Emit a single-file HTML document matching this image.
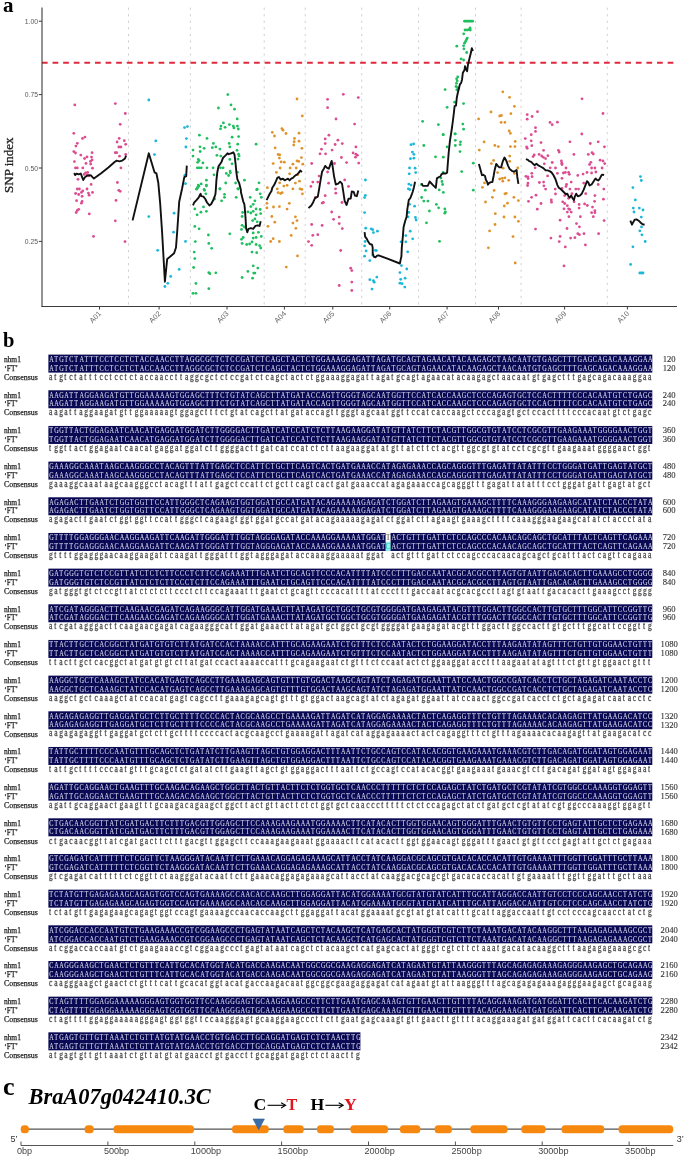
<!DOCTYPE html>
<html><head><meta charset="utf-8"><style>
html,body{margin:0;padding:0;background:#fff;}
svg{display:block;will-change:transform;filter:blur(0.35px);}
.sq{font-family:"Liberation Serif",serif;font-size:9.2px;fill:#dcdcf2;stroke:#dcdcf2;stroke-width:0.1px;}
.cs{font-family:"Liberation Serif",serif;font-size:9.4px;fill:#4a4a4a;stroke:#4a4a4a;stroke-width:0.28px;}
.lb{font-family:"Liberation Serif",serif;font-size:8.4px;fill:#222;stroke:#222;stroke-width:0.25px;}
.nm{font-family:"Liberation Serif",serif;font-size:8.6px;fill:#333;stroke:#333;stroke-width:0.12px;}
</style></head><body>
<svg width="685" height="1156" viewBox="0 0 685 1156">
<text x="3" y="12" font-family="Liberation Serif" font-weight="bold" font-size="21" fill="#000">a</text>
<line x1="128.5" y1="7.6" x2="128.5" y2="306.5" stroke="#d0d0d0" stroke-width="1" stroke-dasharray="2.2 4.35"/>
<line x1="190.4" y1="7.6" x2="190.4" y2="306.5" stroke="#d0d0d0" stroke-width="1" stroke-dasharray="2.2 4.35"/>
<line x1="264.2" y1="7.6" x2="264.2" y2="306.5" stroke="#d0d0d0" stroke-width="1" stroke-dasharray="2.2 4.35"/>
<line x1="305.2" y1="7.6" x2="305.2" y2="306.5" stroke="#d0d0d0" stroke-width="1" stroke-dasharray="2.2 4.35"/>
<line x1="361.7" y1="7.6" x2="361.7" y2="306.5" stroke="#d0d0d0" stroke-width="1" stroke-dasharray="2.2 4.35"/>
<line x1="418.6" y1="7.6" x2="418.6" y2="306.5" stroke="#d0d0d0" stroke-width="1" stroke-dasharray="2.2 4.35"/>
<line x1="475.5" y1="7.6" x2="475.5" y2="306.5" stroke="#d0d0d0" stroke-width="1" stroke-dasharray="2.2 4.35"/>
<line x1="521.1" y1="7.6" x2="521.1" y2="306.5" stroke="#d0d0d0" stroke-width="1" stroke-dasharray="2.2 4.35"/>
<line x1="607.3" y1="7.6" x2="607.3" y2="306.5" stroke="#d0d0d0" stroke-width="1" stroke-dasharray="2.2 4.35"/>
<line x1="41.95" y1="62.7" x2="673.6" y2="62.7" stroke="#e0283c" stroke-width="2" stroke-dasharray="5.7 4.905"/>
<g fill="#dc4c90"><circle cx="74.8" cy="104.9" r="1.4"/><circle cx="115.3" cy="103.6" r="1.4"/><circle cx="125.3" cy="113.5" r="1.4"/><circle cx="120.2" cy="124.3" r="1.4"/><circle cx="73.8" cy="133.3" r="1.4"/><circle cx="82.5" cy="138.4" r="1.4"/><circle cx="84.9" cy="137.1" r="1.4"/><circle cx="77.3" cy="143.3" r="1.4"/><circle cx="75.9" cy="146.1" r="1.4"/><circle cx="119.2" cy="138.4" r="1.4"/><circle cx="117.1" cy="142.0" r="1.4"/><circle cx="124.3" cy="140.7" r="1.4"/><circle cx="125.7" cy="144.3" r="1.4"/><circle cx="118.8" cy="147.0" r="1.4"/><circle cx="120.9" cy="147.0" r="1.4"/><circle cx="73.8" cy="151.6" r="1.4"/><circle cx="75.5" cy="153.0" r="1.4"/><circle cx="80.8" cy="155.1" r="1.4"/><circle cx="92.1" cy="152.7" r="1.4"/><circle cx="84.6" cy="158.5" r="1.4"/><circle cx="87.0" cy="156.9" r="1.4"/><circle cx="91.5" cy="157.1" r="1.4"/><circle cx="92.1" cy="159.9" r="1.4"/><circle cx="115.3" cy="152.7" r="1.4"/><circle cx="116.7" cy="152.7" r="1.4"/><circle cx="119.5" cy="156.2" r="1.4"/><circle cx="125.7" cy="154.4" r="1.4"/><circle cx="74.4" cy="161.6" r="1.4"/><circle cx="86.0" cy="163.4" r="1.4"/><circle cx="90.4" cy="161.3" r="1.4"/><circle cx="90.7" cy="164.0" r="1.4"/><circle cx="75.5" cy="167.9" r="1.4"/><circle cx="77.3" cy="167.9" r="1.4"/><circle cx="82.8" cy="167.9" r="1.4"/><circle cx="92.5" cy="168.2" r="1.4"/><circle cx="120.9" cy="167.9" r="1.4"/><circle cx="85.6" cy="172.8" r="1.4"/><circle cx="87.7" cy="172.4" r="1.4"/><circle cx="84.2" cy="174.4" r="1.4"/><circle cx="87.0" cy="175.1" r="1.4"/><circle cx="89.1" cy="175.8" r="1.4"/><circle cx="78.0" cy="179.3" r="1.4"/><circle cx="91.1" cy="184.4" r="1.4"/><circle cx="117.4" cy="182.5" r="1.4"/><circle cx="77.3" cy="189.0" r="1.4"/><circle cx="79.4" cy="189.0" r="1.4"/><circle cx="87.0" cy="189.0" r="1.4"/><circle cx="82.8" cy="190.8" r="1.4"/><circle cx="81.4" cy="192.4" r="1.4"/><circle cx="92.5" cy="192.4" r="1.4"/><circle cx="88.4" cy="193.1" r="1.4"/><circle cx="75.6" cy="193.5" r="1.4"/><circle cx="78.7" cy="194.5" r="1.4"/><circle cx="82.1" cy="196.3" r="1.4"/><circle cx="89.1" cy="195.2" r="1.4"/><circle cx="118.8" cy="190.3" r="1.4"/><circle cx="120.2" cy="191.3" r="1.4"/><circle cx="76.6" cy="200.7" r="1.4"/><circle cx="82.1" cy="201.4" r="1.4"/><circle cx="81.4" cy="203.2" r="1.4"/><circle cx="116.0" cy="200.4" r="1.4"/><circle cx="78.7" cy="209.3" r="1.4"/><circle cx="77.3" cy="210.4" r="1.4"/><circle cx="76.2" cy="212.5" r="1.4"/><circle cx="89.3" cy="213.9" r="1.4"/><circle cx="115.3" cy="220.8" r="1.4"/><circle cx="93.5" cy="236.4" r="1.4"/><circle cx="125.0" cy="241.6" r="1.4"/></g>
<g fill="#1ab8d8"><circle cx="148.8" cy="100.0" r="1.4"/><circle cx="155.8" cy="140.9" r="1.4"/><circle cx="154.5" cy="154.6" r="1.4"/><circle cx="184.5" cy="127.6" r="1.4"/><circle cx="187.4" cy="126.6" r="1.4"/><circle cx="186.4" cy="138.6" r="1.4"/><circle cx="185.9" cy="147.0" r="1.4"/><circle cx="184.9" cy="175.2" r="1.4"/><circle cx="185.5" cy="183.7" r="1.4"/><circle cx="148.8" cy="216.6" r="1.4"/><circle cx="174.1" cy="213.2" r="1.4"/><circle cx="173.5" cy="232.2" r="1.4"/><circle cx="185.5" cy="241.4" r="1.4"/><circle cx="157.7" cy="250.3" r="1.4"/><circle cx="179.2" cy="269.4" r="1.4"/><circle cx="170.7" cy="276.4" r="1.4"/><circle cx="167.8" cy="283.3" r="1.4"/><circle cx="164.9" cy="286.5" r="1.4"/></g>
<g fill="#1fbf5e"><circle cx="227.8" cy="94.6" r="1.4"/><circle cx="231.0" cy="104.9" r="1.4"/><circle cx="234.5" cy="109.2" r="1.4"/><circle cx="218.4" cy="108.0" r="1.4"/><circle cx="237.2" cy="118.9" r="1.4"/><circle cx="223.4" cy="122.9" r="1.4"/><circle cx="229.4" cy="124.6" r="1.4"/><circle cx="233.3" cy="126.1" r="1.4"/><circle cx="237.4" cy="126.1" r="1.4"/><circle cx="221.0" cy="126.1" r="1.4"/><circle cx="225.1" cy="127.3" r="1.4"/><circle cx="220.5" cy="128.8" r="1.4"/><circle cx="233.9" cy="127.9" r="1.4"/><circle cx="238.3" cy="129.0" r="1.4"/><circle cx="199.4" cy="135.2" r="1.4"/><circle cx="207.0" cy="138.4" r="1.4"/><circle cx="232.1" cy="137.2" r="1.4"/><circle cx="238.6" cy="136.6" r="1.4"/><circle cx="213.4" cy="143.4" r="1.4"/><circle cx="229.2" cy="143.4" r="1.4"/><circle cx="237.7" cy="144.2" r="1.4"/><circle cx="256.1" cy="144.2" r="1.4"/><circle cx="200.0" cy="146.8" r="1.4"/><circle cx="204.1" cy="148.3" r="1.4"/><circle cx="212.3" cy="147.7" r="1.4"/><circle cx="215.8" cy="146.9" r="1.4"/><circle cx="229.8" cy="146.9" r="1.4"/><circle cx="219.9" cy="149.1" r="1.4"/><circle cx="193.0" cy="150.1" r="1.4"/><circle cx="200.2" cy="151.5" r="1.4"/><circle cx="237.0" cy="150.3" r="1.4"/><circle cx="216.9" cy="155.3" r="1.4"/><circle cx="220.8" cy="156.1" r="1.4"/><circle cx="238.6" cy="154.2" r="1.4"/><circle cx="239.1" cy="155.9" r="1.4"/><circle cx="193.0" cy="156.1" r="1.4"/><circle cx="198.3" cy="159.4" r="1.4"/><circle cx="199.1" cy="160.6" r="1.4"/><circle cx="197.7" cy="162.3" r="1.4"/><circle cx="202.9" cy="162.9" r="1.4"/><circle cx="229.8" cy="159.4" r="1.4"/><circle cx="238.0" cy="159.1" r="1.4"/><circle cx="232.1" cy="163.8" r="1.4"/><circle cx="197.3" cy="167.8" r="1.4"/><circle cx="199.1" cy="167.8" r="1.4"/><circle cx="201.2" cy="167.8" r="1.4"/><circle cx="207.0" cy="167.8" r="1.4"/><circle cx="213.1" cy="167.8" r="1.4"/><circle cx="220.5" cy="167.8" r="1.4"/><circle cx="223.1" cy="167.8" r="1.4"/><circle cx="226.3" cy="173.4" r="1.4"/><circle cx="230.1" cy="171.1" r="1.4"/><circle cx="230.4" cy="172.8" r="1.4"/><circle cx="228.6" cy="175.5" r="1.4"/><circle cx="214.0" cy="174.8" r="1.4"/><circle cx="237.4" cy="172.3" r="1.4"/><circle cx="206.4" cy="180.2" r="1.4"/><circle cx="244.4" cy="180.2" r="1.4"/><circle cx="259.0" cy="182.8" r="1.4"/><circle cx="225.7" cy="183.0" r="1.4"/><circle cx="235.6" cy="183.0" r="1.4"/><circle cx="198.3" cy="185.1" r="1.4"/><circle cx="201.2" cy="183.9" r="1.4"/><circle cx="206.4" cy="185.1" r="1.4"/><circle cx="197.7" cy="187.4" r="1.4"/><circle cx="196.5" cy="189.2" r="1.4"/><circle cx="204.1" cy="189.5" r="1.4"/><circle cx="219.9" cy="188.6" r="1.4"/><circle cx="238.0" cy="188.6" r="1.4"/><circle cx="257.2" cy="189.2" r="1.4"/><circle cx="197.1" cy="188.5" r="1.4"/><circle cx="198.8" cy="186.2" r="1.4"/><circle cx="206.4" cy="185.9" r="1.4"/><circle cx="204.5" cy="190.3" r="1.4"/><circle cx="205.9" cy="193.8" r="1.4"/><circle cx="219.9" cy="189.1" r="1.4"/><circle cx="238.0" cy="189.1" r="1.4"/><circle cx="256.7" cy="189.7" r="1.4"/><circle cx="224.5" cy="194.3" r="1.4"/><circle cx="224.5" cy="197.3" r="1.4"/><circle cx="236.2" cy="197.3" r="1.4"/><circle cx="221.6" cy="200.8" r="1.4"/><circle cx="214.6" cy="199.0" r="1.4"/><circle cx="260.2" cy="193.8" r="1.4"/><circle cx="261.3" cy="197.3" r="1.4"/><circle cx="250.2" cy="197.3" r="1.4"/><circle cx="254.9" cy="200.8" r="1.4"/><circle cx="253.2" cy="204.3" r="1.4"/><circle cx="250.8" cy="206.6" r="1.4"/><circle cx="194.8" cy="208.9" r="1.4"/><circle cx="203.5" cy="206.9" r="1.4"/><circle cx="200.9" cy="212.2" r="1.4"/><circle cx="206.4" cy="211.3" r="1.4"/><circle cx="197.1" cy="214.8" r="1.4"/><circle cx="242.6" cy="212.4" r="1.4"/><circle cx="247.9" cy="211.9" r="1.4"/><circle cx="250.8" cy="213.0" r="1.4"/><circle cx="253.2" cy="211.3" r="1.4"/><circle cx="256.1" cy="208.9" r="1.4"/><circle cx="260.2" cy="209.5" r="1.4"/><circle cx="260.7" cy="213.6" r="1.4"/><circle cx="256.1" cy="214.8" r="1.4"/><circle cx="242.1" cy="216.5" r="1.4"/><circle cx="254.9" cy="218.9" r="1.4"/><circle cx="252.6" cy="220.6" r="1.4"/><circle cx="257.2" cy="221.8" r="1.4"/><circle cx="242.1" cy="225.3" r="1.4"/><circle cx="244.4" cy="227.0" r="1.4"/><circle cx="241.5" cy="229.4" r="1.4"/><circle cx="194.8" cy="226.4" r="1.4"/><circle cx="199.1" cy="228.8" r="1.4"/><circle cx="229.8" cy="233.8" r="1.4"/><circle cx="208.4" cy="235.0" r="1.4"/><circle cx="253.2" cy="232.9" r="1.4"/><circle cx="258.4" cy="232.3" r="1.4"/><circle cx="261.3" cy="236.4" r="1.4"/><circle cx="256.1" cy="237.5" r="1.4"/><circle cx="253.2" cy="238.1" r="1.4"/><circle cx="243.2" cy="237.5" r="1.4"/><circle cx="241.5" cy="239.3" r="1.4"/><circle cx="195.3" cy="241.6" r="1.4"/><circle cx="208.8" cy="243.4" r="1.4"/><circle cx="211.7" cy="248.3" r="1.4"/><circle cx="242.1" cy="243.4" r="1.4"/><circle cx="246.7" cy="244.5" r="1.4"/><circle cx="249.6" cy="244.0" r="1.4"/><circle cx="256.1" cy="244.5" r="1.4"/><circle cx="259.6" cy="245.7" r="1.4"/><circle cx="260.7" cy="248.0" r="1.4"/><circle cx="252.0" cy="242.0" r="1.4"/><circle cx="194.2" cy="252.1" r="1.4"/><circle cx="252.0" cy="252.1" r="1.4"/><circle cx="256.7" cy="252.7" r="1.4"/><circle cx="194.8" cy="258.6" r="1.4"/><circle cx="193.6" cy="267.5" r="1.4"/><circle cx="253.2" cy="265.8" r="1.4"/><circle cx="257.8" cy="268.1" r="1.4"/><circle cx="208.8" cy="272.6" r="1.4"/><circle cx="209.9" cy="273.7" r="1.4"/><circle cx="215.8" cy="272.8" r="1.4"/><circle cx="247.9" cy="271.4" r="1.4"/><circle cx="253.7" cy="273.1" r="1.4"/><circle cx="254.9" cy="273.1" r="1.4"/><circle cx="242.1" cy="277.5" r="1.4"/><circle cx="252.6" cy="278.2" r="1.4"/><circle cx="195.9" cy="283.4" r="1.4"/><circle cx="208.8" cy="288.7" r="1.4"/><circle cx="193.0" cy="293.3" r="1.4"/><circle cx="195.9" cy="293.3" r="1.4"/></g>
<g fill="#e0922a"><circle cx="297.0" cy="99.0" r="1.4"/><circle cx="302.3" cy="115.9" r="1.4"/><circle cx="281.9" cy="128.6" r="1.4"/><circle cx="283.0" cy="130.2" r="1.4"/><circle cx="272.3" cy="132.3" r="1.4"/><circle cx="274.5" cy="136.0" r="1.4"/><circle cx="286.0" cy="133.5" r="1.4"/><circle cx="299.0" cy="133.2" r="1.4"/><circle cx="294.5" cy="138.4" r="1.4"/><circle cx="294.2" cy="141.7" r="1.4"/><circle cx="299.0" cy="141.2" r="1.4"/><circle cx="293.7" cy="145.0" r="1.4"/><circle cx="275.1" cy="147.8" r="1.4"/><circle cx="301.9" cy="148.3" r="1.4"/><circle cx="278.1" cy="154.4" r="1.4"/><circle cx="279.7" cy="154.9" r="1.4"/><circle cx="279.4" cy="158.1" r="1.4"/><circle cx="281.1" cy="161.9" r="1.4"/><circle cx="284.3" cy="162.2" r="1.4"/><circle cx="301.4" cy="157.6" r="1.4"/><circle cx="297.0" cy="160.9" r="1.4"/><circle cx="298.7" cy="161.4" r="1.4"/><circle cx="273.2" cy="163.6" r="1.4"/><circle cx="292.9" cy="164.2" r="1.4"/><circle cx="302.8" cy="164.2" r="1.4"/><circle cx="280.1" cy="168.0" r="1.4"/><circle cx="290.1" cy="168.0" r="1.4"/><circle cx="296.2" cy="168.0" r="1.4"/><circle cx="276.4" cy="172.4" r="1.4"/><circle cx="289.6" cy="173.8" r="1.4"/><circle cx="297.8" cy="174.6" r="1.4"/><circle cx="299.5" cy="181.2" r="1.4"/><circle cx="279.7" cy="182.8" r="1.4"/><circle cx="283.8" cy="186.1" r="1.4"/><circle cx="287.1" cy="185.3" r="1.4"/><circle cx="295.4" cy="183.1" r="1.4"/><circle cx="267.4" cy="187.7" r="1.4"/><circle cx="277.3" cy="188.9" r="1.4"/><circle cx="292.9" cy="188.9" r="1.4"/><circle cx="300.0" cy="188.9" r="1.4"/><circle cx="301.9" cy="189.4" r="1.4"/><circle cx="278.1" cy="192.7" r="1.4"/><circle cx="280.6" cy="193.5" r="1.4"/><circle cx="282.2" cy="192.7" r="1.4"/><circle cx="302.4" cy="193.8" r="1.4"/><circle cx="266.9" cy="203.3" r="1.4"/><circle cx="289.3" cy="203.3" r="1.4"/><circle cx="266.9" cy="207.9" r="1.4"/><circle cx="273.5" cy="207.0" r="1.4"/><circle cx="279.4" cy="206.6" r="1.4"/><circle cx="287.1" cy="209.1" r="1.4"/><circle cx="271.8" cy="216.5" r="1.4"/><circle cx="295.4" cy="216.8" r="1.4"/><circle cx="297.0" cy="220.6" r="1.4"/><circle cx="274.8" cy="222.2" r="1.4"/><circle cx="292.9" cy="223.1" r="1.4"/><circle cx="267.9" cy="226.3" r="1.4"/><circle cx="295.9" cy="228.3" r="1.4"/><circle cx="273.2" cy="238.7" r="1.4"/><circle cx="270.7" cy="241.5" r="1.4"/><circle cx="279.4" cy="241.5" r="1.4"/><circle cx="291.2" cy="235.4" r="1.4"/><circle cx="297.5" cy="255.9" r="1.4"/><circle cx="286.3" cy="267.1" r="1.4"/></g>
<g fill="#dc4c90"><circle cx="343.3" cy="94.3" r="1.4"/><circle cx="327.6" cy="99.3" r="1.4"/><circle cx="358.3" cy="97.6" r="1.4"/><circle cx="327.6" cy="107.7" r="1.4"/><circle cx="336.0" cy="119.0" r="1.4"/><circle cx="354.6" cy="124.1" r="1.4"/><circle cx="328.9" cy="135.2" r="1.4"/><circle cx="325.2" cy="138.9" r="1.4"/><circle cx="337.9" cy="140.2" r="1.4"/><circle cx="325.2" cy="143.6" r="1.4"/><circle cx="335.1" cy="144.5" r="1.4"/><circle cx="342.3" cy="143.6" r="1.4"/><circle cx="321.5" cy="149.2" r="1.4"/><circle cx="332.1" cy="150.1" r="1.4"/><circle cx="355.9" cy="146.9" r="1.4"/><circle cx="320.0" cy="153.8" r="1.4"/><circle cx="325.6" cy="153.8" r="1.4"/><circle cx="353.1" cy="152.9" r="1.4"/><circle cx="355.9" cy="154.2" r="1.4"/><circle cx="357.4" cy="155.3" r="1.4"/><circle cx="355.5" cy="157.2" r="1.4"/><circle cx="341.4" cy="157.5" r="1.4"/><circle cx="311.7" cy="163.5" r="1.4"/><circle cx="334.5" cy="163.5" r="1.4"/><circle cx="346.6" cy="162.6" r="1.4"/><circle cx="358.7" cy="163.1" r="1.4"/><circle cx="327.6" cy="172.0" r="1.4"/><circle cx="319.1" cy="176.1" r="1.4"/><circle cx="312.8" cy="182.1" r="1.4"/><circle cx="317.8" cy="182.1" r="1.4"/><circle cx="328.6" cy="183.2" r="1.4"/><circle cx="344.7" cy="179.9" r="1.4"/><circle cx="310.9" cy="186.4" r="1.4"/><circle cx="335.5" cy="188.8" r="1.4"/><circle cx="348.5" cy="186.4" r="1.4"/><circle cx="335.8" cy="193.2" r="1.4"/><circle cx="325.2" cy="195.7" r="1.4"/><circle cx="315.4" cy="197.5" r="1.4"/><circle cx="322.1" cy="203.1" r="1.4"/><circle cx="323.4" cy="202.5" r="1.4"/><circle cx="342.0" cy="202.5" r="1.4"/><circle cx="331.7" cy="212.0" r="1.4"/><circle cx="333.6" cy="219.3" r="1.4"/><circle cx="339.2" cy="217.1" r="1.4"/><circle cx="311.7" cy="224.5" r="1.4"/><circle cx="322.1" cy="225.4" r="1.4"/><circle cx="339.2" cy="223.6" r="1.4"/><circle cx="342.3" cy="228.6" r="1.4"/><circle cx="312.8" cy="235.3" r="1.4"/><circle cx="317.8" cy="234.7" r="1.4"/><circle cx="308.5" cy="241.6" r="1.4"/><circle cx="311.7" cy="245.3" r="1.4"/><circle cx="340.7" cy="250.5" r="1.4"/><circle cx="350.7" cy="268.2" r="1.4"/><circle cx="351.8" cy="270.6" r="1.4"/><circle cx="351.8" cy="282.1" r="1.4"/><circle cx="339.2" cy="285.5" r="1.4"/><circle cx="351.8" cy="290.5" r="1.4"/></g>
<g fill="#1ab8d8"><circle cx="411.0" cy="144.7" r="1.4"/><circle cx="413.6" cy="144.0" r="1.4"/><circle cx="412.4" cy="152.1" r="1.4"/><circle cx="413.9" cy="154.3" r="1.4"/><circle cx="410.5" cy="158.7" r="1.4"/><circle cx="413.9" cy="158.2" r="1.4"/><circle cx="409.5" cy="167.9" r="1.4"/><circle cx="415.1" cy="168.2" r="1.4"/><circle cx="409.2" cy="173.8" r="1.4"/><circle cx="415.7" cy="172.6" r="1.4"/><circle cx="408.8" cy="184.1" r="1.4"/><circle cx="411.0" cy="185.1" r="1.4"/><circle cx="408.3" cy="188.8" r="1.4"/><circle cx="409.8" cy="189.6" r="1.4"/><circle cx="409.5" cy="204.3" r="1.4"/><circle cx="414.6" cy="206.2" r="1.4"/><circle cx="408.8" cy="212.4" r="1.4"/><circle cx="408.0" cy="216.8" r="1.4"/><circle cx="415.4" cy="217.5" r="1.4"/><circle cx="416.1" cy="220.0" r="1.4"/><circle cx="365.4" cy="180.0" r="1.4"/><circle cx="365.4" cy="195.4" r="1.4"/><circle cx="364.6" cy="197.6" r="1.4"/><circle cx="364.6" cy="212.6" r="1.4"/><circle cx="365.7" cy="228.2" r="1.4"/><circle cx="371.2" cy="228.8" r="1.4"/><circle cx="372.7" cy="229.7" r="1.4"/><circle cx="373.4" cy="232.6" r="1.4"/><circle cx="377.4" cy="231.2" r="1.4"/><circle cx="410.2" cy="231.2" r="1.4"/><circle cx="405.8" cy="235.6" r="1.4"/><circle cx="412.7" cy="238.8" r="1.4"/><circle cx="365.1" cy="241.5" r="1.4"/><circle cx="405.8" cy="241.8" r="1.4"/><circle cx="401.0" cy="241.8" r="1.4"/><circle cx="364.6" cy="245.9" r="1.4"/><circle cx="366.1" cy="250.9" r="1.4"/><circle cx="375.4" cy="250.3" r="1.4"/><circle cx="376.4" cy="250.6" r="1.4"/><circle cx="372.7" cy="255.0" r="1.4"/><circle cx="364.6" cy="256.2" r="1.4"/><circle cx="369.8" cy="260.6" r="1.4"/><circle cx="407.7" cy="251.8" r="1.4"/><circle cx="401.4" cy="265.6" r="1.4"/><circle cx="406.8" cy="269.0" r="1.4"/><circle cx="399.9" cy="272.6" r="1.4"/><circle cx="400.7" cy="279.3" r="1.4"/><circle cx="405.1" cy="278.2" r="1.4"/><circle cx="399.9" cy="283.2" r="1.4"/><circle cx="402.1" cy="283.7" r="1.4"/><circle cx="404.8" cy="287.1" r="1.4"/><circle cx="369.8" cy="279.7" r="1.4"/><circle cx="373.4" cy="280.7" r="1.4"/><circle cx="374.2" cy="282.2" r="1.4"/><circle cx="376.8" cy="277.1" r="1.4"/><circle cx="372.0" cy="289.1" r="1.4"/></g>
<g fill="#1fbf5e"><circle cx="464.5" cy="21.2" r="1.4"/><circle cx="465.8" cy="21.2" r="1.4"/><circle cx="467.2" cy="21.2" r="1.4"/><circle cx="468.5" cy="21.2" r="1.4"/><circle cx="469.9" cy="21.2" r="1.4"/><circle cx="471.2" cy="21.2" r="1.4"/><circle cx="472.6" cy="21.2" r="1.4"/><circle cx="470.1" cy="28.0" r="1.4"/><circle cx="469.0" cy="29.7" r="1.4"/><circle cx="467.3" cy="30.0" r="1.4"/><circle cx="465.0" cy="30.0" r="1.4"/><circle cx="470.3" cy="30.0" r="1.4"/><circle cx="463.7" cy="33.8" r="1.4"/><circle cx="467.3" cy="38.1" r="1.4"/><circle cx="466.5" cy="39.5" r="1.4"/><circle cx="465.6" cy="41.5" r="1.4"/><circle cx="464.5" cy="43.2" r="1.4"/><circle cx="463.6" cy="45.8" r="1.4"/><circle cx="456.8" cy="46.2" r="1.4"/><circle cx="463.9" cy="48.8" r="1.4"/><circle cx="466.7" cy="52.5" r="1.4"/><circle cx="461.1" cy="58.9" r="1.4"/><circle cx="463.6" cy="60.0" r="1.4"/><circle cx="457.7" cy="76.9" r="1.4"/><circle cx="456.6" cy="78.8" r="1.4"/><circle cx="457.2" cy="80.8" r="1.4"/><circle cx="456.4" cy="83.3" r="1.4"/><circle cx="456.0" cy="86.5" r="1.4"/><circle cx="457.5" cy="87.6" r="1.4"/><circle cx="456.8" cy="89.8" r="1.4"/><circle cx="458.3" cy="88.7" r="1.4"/><circle cx="445.1" cy="89.6" r="1.4"/><circle cx="454.6" cy="102.2" r="1.4"/><circle cx="463.6" cy="103.6" r="1.4"/><circle cx="447.1" cy="107.3" r="1.4"/><circle cx="422.6" cy="121.3" r="1.4"/><circle cx="438.4" cy="124.7" r="1.4"/><circle cx="462.8" cy="124.1" r="1.4"/><circle cx="463.6" cy="129.2" r="1.4"/><circle cx="443.1" cy="134.6" r="1.4"/><circle cx="454.9" cy="133.9" r="1.4"/><circle cx="443.3" cy="134.7" r="1.4"/><circle cx="455.3" cy="133.9" r="1.4"/><circle cx="455.3" cy="140.3" r="1.4"/><circle cx="460.5" cy="141.8" r="1.4"/><circle cx="455.3" cy="145.5" r="1.4"/><circle cx="460.2" cy="144.6" r="1.4"/><circle cx="423.8" cy="145.5" r="1.4"/><circle cx="447.1" cy="146.9" r="1.4"/><circle cx="460.0" cy="151.6" r="1.4"/><circle cx="435.5" cy="156.8" r="1.4"/><circle cx="443.3" cy="157.2" r="1.4"/><circle cx="473.3" cy="163.2" r="1.4"/><circle cx="461.7" cy="171.6" r="1.4"/><circle cx="443.1" cy="172.5" r="1.4"/><circle cx="440.9" cy="178.1" r="1.4"/><circle cx="442.0" cy="181.5" r="1.4"/><circle cx="442.6" cy="184.5" r="1.4"/><circle cx="421.5" cy="184.5" r="1.4"/><circle cx="425.3" cy="190.2" r="1.4"/><circle cx="439.2" cy="189.9" r="1.4"/><circle cx="443.3" cy="192.4" r="1.4"/><circle cx="473.3" cy="190.2" r="1.4"/><circle cx="421.7" cy="197.5" r="1.4"/><circle cx="423.8" cy="201.1" r="1.4"/><circle cx="427.9" cy="201.1" r="1.4"/><circle cx="436.4" cy="204.4" r="1.4"/><circle cx="438.6" cy="207.8" r="1.4"/><circle cx="444.8" cy="208.9" r="1.4"/><circle cx="445.4" cy="211.9" r="1.4"/><circle cx="444.8" cy="213.2" r="1.4"/><circle cx="429.4" cy="211.0" r="1.4"/><circle cx="426.5" cy="222.8" r="1.4"/><circle cx="439.5" cy="241.3" r="1.4"/></g>
<g fill="#e0922a"><circle cx="502.8" cy="91.8" r="1.4"/><circle cx="509.5" cy="97.3" r="1.4"/><circle cx="514.4" cy="106.3" r="1.4"/><circle cx="491.0" cy="112.0" r="1.4"/><circle cx="510.9" cy="113.7" r="1.4"/><circle cx="499.7" cy="116.0" r="1.4"/><circle cx="501.4" cy="115.5" r="1.4"/><circle cx="478.6" cy="118.9" r="1.4"/><circle cx="501.1" cy="122.4" r="1.4"/><circle cx="504.9" cy="122.4" r="1.4"/><circle cx="509.2" cy="131.0" r="1.4"/><circle cx="510.4" cy="133.3" r="1.4"/><circle cx="515.2" cy="141.4" r="1.4"/><circle cx="484.1" cy="141.9" r="1.4"/><circle cx="494.8" cy="145.4" r="1.4"/><circle cx="498.3" cy="146.6" r="1.4"/><circle cx="510.4" cy="146.6" r="1.4"/><circle cx="514.9" cy="146.6" r="1.4"/><circle cx="479.3" cy="150.1" r="1.4"/><circle cx="509.7" cy="156.1" r="1.4"/><circle cx="493.6" cy="160.4" r="1.4"/><circle cx="509.7" cy="161.3" r="1.4"/><circle cx="491.4" cy="163.6" r="1.4"/><circle cx="517.8" cy="167.9" r="1.4"/><circle cx="503.1" cy="168.2" r="1.4"/><circle cx="497.6" cy="172.6" r="1.4"/><circle cx="514.4" cy="173.4" r="1.4"/><circle cx="499.7" cy="179.0" r="1.4"/><circle cx="502.3" cy="178.3" r="1.4"/><circle cx="504.9" cy="177.8" r="1.4"/><circle cx="502.8" cy="181.2" r="1.4"/><circle cx="508.7" cy="180.3" r="1.4"/><circle cx="484.5" cy="182.9" r="1.4"/><circle cx="482.4" cy="187.3" r="1.4"/><circle cx="494.1" cy="190.4" r="1.4"/><circle cx="504.9" cy="193.8" r="1.4"/><circle cx="506.2" cy="193.3" r="1.4"/><circle cx="492.4" cy="197.3" r="1.4"/><circle cx="513.9" cy="197.3" r="1.4"/><circle cx="518.4" cy="200.6" r="1.4"/><circle cx="485.5" cy="202.0" r="1.4"/><circle cx="507.5" cy="203.2" r="1.4"/><circle cx="504.3" cy="206.0" r="1.4"/><circle cx="495.3" cy="213.7" r="1.4"/><circle cx="504.0" cy="217.0" r="1.4"/><circle cx="514.9" cy="217.0" r="1.4"/><circle cx="518.4" cy="221.3" r="1.4"/><circle cx="495.0" cy="224.5" r="1.4"/><circle cx="489.6" cy="230.9" r="1.4"/><circle cx="513.0" cy="236.6" r="1.4"/><circle cx="488.4" cy="247.8" r="1.4"/><circle cx="515.2" cy="263.0" r="1.4"/></g>
<g fill="#dc4c90"><circle cx="582.0" cy="98.8" r="1.4"/><circle cx="537.5" cy="111.7" r="1.4"/><circle cx="527.2" cy="114.6" r="1.4"/><circle cx="527.2" cy="119.2" r="1.4"/><circle cx="532.1" cy="116.5" r="1.4"/><circle cx="603.0" cy="113.5" r="1.4"/><circle cx="550.0" cy="122.4" r="1.4"/><circle cx="552.2" cy="124.7" r="1.4"/><circle cx="557.4" cy="122.2" r="1.4"/><circle cx="535.5" cy="127.7" r="1.4"/><circle cx="535.5" cy="131.4" r="1.4"/><circle cx="531.2" cy="134.7" r="1.4"/><circle cx="581.8" cy="134.0" r="1.4"/><circle cx="525.3" cy="138.6" r="1.4"/><circle cx="531.2" cy="140.8" r="1.4"/><circle cx="541.0" cy="142.6" r="1.4"/><circle cx="569.9" cy="141.8" r="1.4"/><circle cx="598.2" cy="141.8" r="1.4"/><circle cx="590.3" cy="143.5" r="1.4"/><circle cx="526.6" cy="147.0" r="1.4"/><circle cx="527.2" cy="148.3" r="1.4"/><circle cx="531.8" cy="145.7" r="1.4"/><circle cx="604.4" cy="146.8" r="1.4"/><circle cx="543.6" cy="150.3" r="1.4"/><circle cx="558.4" cy="150.3" r="1.4"/><circle cx="559.2" cy="152.0" r="1.4"/><circle cx="573.9" cy="154.4" r="1.4"/><circle cx="588.3" cy="154.4" r="1.4"/><circle cx="592.0" cy="152.7" r="1.4"/><circle cx="593.3" cy="154.0" r="1.4"/><circle cx="534.2" cy="154.9" r="1.4"/><circle cx="533.1" cy="156.6" r="1.4"/><circle cx="539.1" cy="154.4" r="1.4"/><circle cx="541.7" cy="156.0" r="1.4"/><circle cx="543.4" cy="157.3" r="1.4"/><circle cx="545.6" cy="158.6" r="1.4"/><circle cx="547.9" cy="155.7" r="1.4"/><circle cx="552.2" cy="162.5" r="1.4"/><circle cx="561.4" cy="160.9" r="1.4"/><circle cx="561.8" cy="163.2" r="1.4"/><circle cx="562.0" cy="164.5" r="1.4"/><circle cx="544.3" cy="163.8" r="1.4"/><circle cx="600.1" cy="160.2" r="1.4"/><circle cx="603.0" cy="160.9" r="1.4"/><circle cx="604.7" cy="163.6" r="1.4"/><circle cx="590.9" cy="162.3" r="1.4"/><circle cx="589.6" cy="164.5" r="1.4"/><circle cx="535.1" cy="167.8" r="1.4"/><circle cx="550.2" cy="167.8" r="1.4"/><circle cx="555.5" cy="168.0" r="1.4"/><circle cx="566.0" cy="168.0" r="1.4"/><circle cx="591.6" cy="168.0" r="1.4"/><circle cx="594.9" cy="168.0" r="1.4"/><circle cx="602.1" cy="168.0" r="1.4"/><circle cx="531.8" cy="173.3" r="1.4"/><circle cx="557.4" cy="173.3" r="1.4"/><circle cx="563.4" cy="173.0" r="1.4"/><circle cx="565.3" cy="172.4" r="1.4"/><circle cx="568.6" cy="172.4" r="1.4"/><circle cx="569.3" cy="174.3" r="1.4"/><circle cx="587.0" cy="172.4" r="1.4"/><circle cx="591.6" cy="173.0" r="1.4"/><circle cx="595.9" cy="172.0" r="1.4"/><circle cx="583.1" cy="174.1" r="1.4"/><circle cx="577.8" cy="175.4" r="1.4"/><circle cx="525.9" cy="176.3" r="1.4"/><circle cx="527.9" cy="177.0" r="1.4"/><circle cx="532.1" cy="176.7" r="1.4"/><circle cx="547.6" cy="175.9" r="1.4"/><circle cx="562.0" cy="178.3" r="1.4"/><circle cx="528.1" cy="178.6" r="1.4"/><circle cx="539.4" cy="182.5" r="1.4"/><circle cx="543.6" cy="182.1" r="1.4"/><circle cx="543.9" cy="185.8" r="1.4"/><circle cx="545.6" cy="189.1" r="1.4"/><circle cx="527.9" cy="183.1" r="1.4"/><circle cx="527.6" cy="185.5" r="1.4"/><circle cx="555.2" cy="189.1" r="1.4"/><circle cx="566.6" cy="184.5" r="1.4"/><circle cx="566.0" cy="186.4" r="1.4"/><circle cx="571.2" cy="182.1" r="1.4"/><circle cx="569.9" cy="189.1" r="1.4"/><circle cx="575.8" cy="189.1" r="1.4"/><circle cx="578.5" cy="189.1" r="1.4"/><circle cx="583.7" cy="183.1" r="1.4"/><circle cx="562.0" cy="188.4" r="1.4"/><circle cx="555.5" cy="193.9" r="1.4"/><circle cx="536.0" cy="195.2" r="1.4"/><circle cx="531.6" cy="197.3" r="1.4"/><circle cx="528.5" cy="201.3" r="1.4"/><circle cx="541.0" cy="203.5" r="1.4"/><circle cx="551.3" cy="200.0" r="1.4"/><circle cx="551.5" cy="202.2" r="1.4"/><circle cx="537.3" cy="209.2" r="1.4"/><circle cx="564.7" cy="195.6" r="1.4"/><circle cx="568.6" cy="198.3" r="1.4"/><circle cx="571.9" cy="193.7" r="1.4"/><circle cx="562.7" cy="201.8" r="1.4"/><circle cx="564.7" cy="203.5" r="1.4"/><circle cx="567.3" cy="205.7" r="1.4"/><circle cx="564.0" cy="208.8" r="1.4"/><circle cx="568.6" cy="208.8" r="1.4"/><circle cx="569.7" cy="209.4" r="1.4"/><circle cx="567.3" cy="212.1" r="1.4"/><circle cx="571.2" cy="212.1" r="1.4"/><circle cx="574.1" cy="201.8" r="1.4"/><circle cx="579.1" cy="204.4" r="1.4"/><circle cx="579.1" cy="208.1" r="1.4"/><circle cx="584.6" cy="203.9" r="1.4"/><circle cx="587.3" cy="205.5" r="1.4"/><circle cx="585.7" cy="193.7" r="1.4"/><circle cx="594.9" cy="195.6" r="1.4"/><circle cx="594.6" cy="201.3" r="1.4"/><circle cx="592.5" cy="207.1" r="1.4"/><circle cx="594.9" cy="210.7" r="1.4"/><circle cx="594.9" cy="212.7" r="1.4"/><circle cx="591.6" cy="212.7" r="1.4"/><circle cx="593.3" cy="216.7" r="1.4"/><circle cx="598.2" cy="184.5" r="1.4"/><circle cx="603.8" cy="189.1" r="1.4"/><circle cx="603.4" cy="199.2" r="1.4"/><circle cx="604.1" cy="220.6" r="1.4"/><circle cx="568.9" cy="216.7" r="1.4"/><circle cx="580.4" cy="216.7" r="1.4"/><circle cx="560.1" cy="220.2" r="1.4"/><circle cx="576.5" cy="223.6" r="1.4"/><circle cx="579.4" cy="226.8" r="1.4"/><circle cx="567.0" cy="228.5" r="1.4"/><circle cx="535.5" cy="229.1" r="1.4"/><circle cx="577.8" cy="233.7" r="1.4"/><circle cx="579.4" cy="234.7" r="1.4"/><circle cx="584.0" cy="233.7" r="1.4"/><circle cx="598.6" cy="233.7" r="1.4"/><circle cx="560.1" cy="236.4" r="1.4"/><circle cx="550.9" cy="238.1" r="1.4"/><circle cx="570.6" cy="238.1" r="1.4"/><circle cx="574.9" cy="237.7" r="1.4"/><circle cx="559.2" cy="241.6" r="1.4"/><circle cx="585.4" cy="244.9" r="1.4"/><circle cx="565.3" cy="246.9" r="1.4"/><circle cx="564.0" cy="265.9" r="1.4"/></g>
<g fill="#1ab8d8"><circle cx="640.4" cy="176.6" r="1.4"/><circle cx="641.3" cy="180.5" r="1.4"/><circle cx="632.9" cy="187.6" r="1.4"/><circle cx="635.3" cy="199.9" r="1.4"/><circle cx="633.3" cy="208.1" r="1.4"/><circle cx="639.3" cy="208.1" r="1.4"/><circle cx="643.0" cy="210.0" r="1.4"/><circle cx="634.0" cy="212.0" r="1.4"/><circle cx="641.3" cy="217.1" r="1.4"/><circle cx="641.5" cy="226.9" r="1.4"/><circle cx="639.8" cy="230.8" r="1.4"/><circle cx="641.9" cy="234.8" r="1.4"/><circle cx="645.2" cy="241.5" r="1.4"/><circle cx="632.9" cy="246.8" r="1.4"/><circle cx="630.6" cy="264.4" r="1.4"/><circle cx="639.8" cy="273.0" r="1.4"/><circle cx="641.5" cy="273.0" r="1.4"/><circle cx="643.0" cy="273.0" r="1.4"/></g>
<polyline fill="none" stroke="#111" stroke-width="1.9" stroke-linejoin="round" points="74.2,173.0 75.2,175.1 76.6,173.7 78.7,174.4 80.8,173.5 82.1,177.2 83.2,180.0 84.9,177.2 87.0,175.8 89.1,175.1 91.1,175.5 92.5,177.2 93.9,178.6 101.5,173.0 108.4,167.5 114.6,162.0 116.7,160.6 119.5,161.3 122.3,160.6 125.0,158.5 126.1,155.7"/>
<polyline fill="none" stroke="#111" stroke-width="1.9" stroke-linejoin="round" points="132.6,220.4 148.8,153.3 154.5,172.3 156.4,173.3 158.3,182.8 160.2,203.7 162.1,232.2 164.9,281.7 167.2,258.9 169.7,257.0 174.1,253.2 176.0,247.5 177.3,230.3 179.2,201.8 182.1,188.5 184.3,177.1 186.2,176.1 186.8,165.6"/>
<polyline fill="none" stroke="#111" stroke-width="1.9" stroke-linejoin="round" points="193.0,205.4 194.2,202.5 196.5,200.2 198.8,197.3 200.6,193.8 201.2,196.1 203.5,196.7 205.3,199.0 207.0,202.5 209.4,205.4 211.1,204.3 212.9,200.8 214.6,196.7 215.4,194.3 215.8,190.0 216.4,180.4 217.3,172.3 218.5,166.4 220.5,163.5 221.6,161.7 223.1,157.7 225.1,155.9 226.3,154.7 227.5,153.3 228.6,154.2 230.4,153.6 232.1,153.0 233.3,152.2 234.5,154.7 235.6,164.1 236.5,173.4 237.4,179.3 239.1,182.8 240.9,190.0 240.9,192.0 243.2,201.3 244.4,204.3 245.0,210.7 245.6,218.9 246.1,228.2 247.3,232.3 248.5,228.8 250.8,228.2 253.2,228.8 255.5,225.9 257.8,225.3 259.6,225.9 260.7,221.2"/>
<polyline fill="none" stroke="#111" stroke-width="1.9" stroke-linejoin="round" points="266.6,200.1 268.2,196.8 269.9,193.5 271.5,191.0 272.3,187.7 274.0,185.3 275.6,182.0 277.3,177.9 278.9,177.0 280.6,179.5 283.0,178.7 284.7,180.3 286.3,179.5 288.0,178.7 289.6,180.3 291.2,178.7 292.9,177.9 295.4,175.4 297.0,174.6 298.7,172.9 300.3,170.5 301.9,172.1"/>
<polyline fill="none" stroke="#111" stroke-width="1.9" stroke-linejoin="round" points="308.5,208.1 311.3,205.5 313.2,202.2 315.0,198.1 317.8,196.6 319.1,189.2 320.6,179.9 322.1,171.5 323.9,168.7 325.2,165.9 327.1,167.8 328.9,168.7 330.8,163.1 331.7,160.9 332.7,166.8 334.0,176.1 335.8,184.5 338.2,183.6 340.1,181.7 342.0,183.6 343.3,191.9 344.7,201.2 346.6,205.0 348.5,198.8 350.7,198.5 351.8,191.4 353.7,191.9 355.0,195.7 356.8,196.2 358.3,190.6"/>
<polyline fill="none" stroke="#111" stroke-width="1.9" stroke-linejoin="round" points="364.6,232.2 365.1,236.6 366.8,238.8 368.3,241.8 369.8,244.0 372.0,244.7 372.7,247.6 372.7,253.5 373.9,256.8 375.7,257.2 377.1,255.7 378.6,255.3 387.4,258.7 399.9,263.5 400.7,259.4 401.4,256.5 401.8,247.6 402.9,235.9 403.6,227.1 405.1,221.2 406.6,216.8 407.3,209.4 408.8,199.9 410.2,198.4 411.7,194.7 412.7,191.8 413.9,187.4 415.1,181.8"/>
<polyline fill="none" stroke="#111" stroke-width="1.9" stroke-linejoin="round" points="421.5,183.4 422.9,185.9 425.7,185.9 427.9,185.7 429.6,181.5 433.0,185.1 435.8,187.9 436.9,178.4 438.6,177.2 440.3,176.7 441.4,174.4 443.1,173.3 445.4,173.6 447.1,172.7 447.8,163.7 448.7,152.5 449.9,141.2 452.1,127.0 453.8,113.5 454.6,106.2 456.0,105.6 456.8,97.7 457.7,93.2 459.4,86.5 460.0,84.2 461.1,83.1 462.0,79.7 462.5,75.8 462.8,73.0 463.6,71.3 464.5,70.2 465.0,66.2 465.8,69.6 466.5,68.5 467.1,71.3 467.9,65.1 468.8,61.2 470.1,56.1 471.2,51.6 471.8,48.2 472.9,51.0"/>
<polyline fill="none" stroke="#111" stroke-width="1.9" stroke-linejoin="round" points="478.9,163.9 480.3,169.1 482.0,175.2 483.2,174.8 485.0,176.0 485.8,179.5 487.2,182.1 487.9,184.7 489.3,182.9 491.0,182.1 492.4,182.1 493.6,176.0 494.5,170.8 496.2,163.9 497.6,165.6 499.3,167.4 501.1,167.4 502.8,161.3 504.5,157.5 506.2,160.4 508.0,165.6 509.7,169.1 511.8,170.8 513.9,171.7 516.6,170.0 517.3,176.9 518.4,183.8"/>
<polyline fill="none" stroke="#111" stroke-width="1.9" stroke-linejoin="round" points="525.9,159.2 527.9,159.9 529.2,161.2 531.2,161.9 533.1,163.8 534.5,165.2 536.4,163.8 538.4,165.4 540.4,166.5 542.3,167.5 543.6,168.4 545.6,170.4 547.6,170.4 549.6,171.1 551.5,172.4 553.5,175.3 555.5,179.2 557.4,185.1 558.8,187.7 560.7,189.1 562.7,191.0 564.7,193.0 566.0,194.3 567.3,193.7 568.6,196.3 569.9,197.6 571.2,195.6 572.6,198.3 573.9,200.2 574.9,196.3 576.2,193.7 577.8,196.3 579.8,195.6 581.8,193.7 583.7,189.7 585.0,186.4 587.0,181.2 588.3,182.5 589.6,185.5 591.6,184.5 592.9,182.5 594.2,180.5 595.5,178.5 596.9,179.9 598.2,180.5 599.5,179.2 600.8,176.6 602.1,174.6 604.1,175.0"/>
<polyline fill="none" stroke="#111" stroke-width="1.9" stroke-linejoin="round" points="630.3,220.7 632.0,224.7 633.1,222.4 634.8,219.6 636.5,219.4 638.7,220.7 641.0,223.0 642.6,224.3 644.6,224.7"/>
<line x1="42.0" y1="7.6" x2="42.0" y2="307.0" stroke="#3c3c3c" stroke-width="1.1"/>
<line x1="41.5" y1="306.5" x2="677.0" y2="306.5" stroke="#3c3c3c" stroke-width="1.1"/>
<line x1="38.8" y1="21.2" x2="42.0" y2="21.2" stroke="#3c3c3c" stroke-width="1"/>
<text x="38.1" y="23.7" text-anchor="end" font-family="Liberation Sans" font-size="6.8" fill="#5a5a5a">1.00</text>
<line x1="38.8" y1="94.6" x2="42.0" y2="94.6" stroke="#3c3c3c" stroke-width="1"/>
<text x="38.1" y="97.1" text-anchor="end" font-family="Liberation Sans" font-size="6.8" fill="#5a5a5a">0.75</text>
<line x1="38.8" y1="168.0" x2="42.0" y2="168.0" stroke="#3c3c3c" stroke-width="1"/>
<text x="38.1" y="170.5" text-anchor="end" font-family="Liberation Sans" font-size="6.8" fill="#5a5a5a">0.50</text>
<line x1="38.8" y1="241.4" x2="42.0" y2="241.4" stroke="#3c3c3c" stroke-width="1"/>
<text x="38.1" y="243.9" text-anchor="end" font-family="Liberation Sans" font-size="6.8" fill="#5a5a5a">0.25</text>
<line x1="99.5" y1="306.5" x2="99.5" y2="309.5" stroke="#3c3c3c" stroke-width="1"/>
<text transform="translate(101.7,314.1) rotate(-45)" text-anchor="end" font-family="Liberation Sans" font-size="7.4" fill="#666">A01</text>
<line x1="159.1" y1="306.5" x2="159.1" y2="309.5" stroke="#3c3c3c" stroke-width="1"/>
<text transform="translate(161.29999999999998,314.1) rotate(-45)" text-anchor="end" font-family="Liberation Sans" font-size="7.4" fill="#666">A02</text>
<line x1="227.0" y1="306.5" x2="227.0" y2="309.5" stroke="#3c3c3c" stroke-width="1"/>
<text transform="translate(229.2,314.1) rotate(-45)" text-anchor="end" font-family="Liberation Sans" font-size="7.4" fill="#666">A03</text>
<line x1="284.4" y1="306.5" x2="284.4" y2="309.5" stroke="#3c3c3c" stroke-width="1"/>
<text transform="translate(286.59999999999997,314.1) rotate(-45)" text-anchor="end" font-family="Liberation Sans" font-size="7.4" fill="#666">A04</text>
<line x1="332.8" y1="306.5" x2="332.8" y2="309.5" stroke="#3c3c3c" stroke-width="1"/>
<text transform="translate(335.0,314.1) rotate(-45)" text-anchor="end" font-family="Liberation Sans" font-size="7.4" fill="#666">A05</text>
<line x1="389.7" y1="306.5" x2="389.7" y2="309.5" stroke="#3c3c3c" stroke-width="1"/>
<text transform="translate(391.9,314.1) rotate(-45)" text-anchor="end" font-family="Liberation Sans" font-size="7.4" fill="#666">A06</text>
<line x1="447.1" y1="306.5" x2="447.1" y2="309.5" stroke="#3c3c3c" stroke-width="1"/>
<text transform="translate(449.3,314.1) rotate(-45)" text-anchor="end" font-family="Liberation Sans" font-size="7.4" fill="#666">A07</text>
<line x1="498.5" y1="306.5" x2="498.5" y2="309.5" stroke="#3c3c3c" stroke-width="1"/>
<text transform="translate(500.7,314.1) rotate(-45)" text-anchor="end" font-family="Liberation Sans" font-size="7.4" fill="#666">A08</text>
<line x1="564.6" y1="306.5" x2="564.6" y2="309.5" stroke="#3c3c3c" stroke-width="1"/>
<text transform="translate(566.8000000000001,314.1) rotate(-45)" text-anchor="end" font-family="Liberation Sans" font-size="7.4" fill="#666">A09</text>
<line x1="627.4" y1="306.5" x2="627.4" y2="309.5" stroke="#3c3c3c" stroke-width="1"/>
<text transform="translate(629.6,314.1) rotate(-45)" text-anchor="end" font-family="Liberation Sans" font-size="7.4" fill="#666">A10</text>
<text transform="translate(13.1,165.2) rotate(-90)" text-anchor="middle" font-family="Liberation Serif" font-size="13" fill="#222" stroke="#222" stroke-width="0.3">SNP index</text>
<text x="3" y="346.6" font-family="Liberation Serif" font-weight="bold" font-size="20.5" fill="#000">b</text>
<rect x="48.4" y="354.60" width="603.90" height="18" fill="#0a0a54"/>
<text transform="scale(0.68,1)" x="72.35 79.75 87.15 94.56 101.96 109.36 116.76 124.16 131.56 138.96 146.36 153.76 161.16 168.56 175.96 183.36 190.76 198.17 205.57 212.97 220.37 227.77 235.17 242.57 249.97 257.37 264.77 272.17 279.57 286.97 294.38 301.78 309.18 316.58 323.98 331.38 338.78 346.18 353.58 360.98 368.38 375.78 383.18 390.58 397.99 405.39 412.79 420.19 427.59 434.99 442.39 449.79 457.19 464.59 471.99 479.39 486.79 494.19 501.60 509.00 516.40 523.80 531.20 538.60 546.00 553.40 560.80 568.20 575.60 583.00 590.40 597.81 605.21 612.61 620.01 627.41 634.81 642.21 649.61 657.01 664.41 671.81 679.21 686.61 694.01 701.42 708.82 716.22 723.62 731.02 738.42 745.82 753.22 760.62 768.02 775.42 782.82 790.22 797.62 805.03 812.43 819.83 827.23 834.63 842.03 849.43 856.83 864.23 871.63 879.03 886.43 893.83 901.24 908.64 916.04 923.44 930.84 938.24 945.64 953.04" y="361.90" class="sq">ATGTCTATTTCCTCCTCTACCAACCTTAGGCGCTCTCCGATCTCAGCTACTCTGGAAAGGAGATTAGATGCAGTAGAACATACAAGAGCTAACAATGTGAGCTTTGAGCAGACAAAGGAA</text>
<text transform="scale(0.68,1)" x="72.35 79.75 87.15 94.56 101.96 109.36 116.76 124.16 131.56 138.96 146.36 153.76 161.16 168.56 175.96 183.36 190.76 198.17 205.57 212.97 220.37 227.77 235.17 242.57 249.97 257.37 264.77 272.17 279.57 286.97 294.38 301.78 309.18 316.58 323.98 331.38 338.78 346.18 353.58 360.98 368.38 375.78 383.18 390.58 397.99 405.39 412.79 420.19 427.59 434.99 442.39 449.79 457.19 464.59 471.99 479.39 486.79 494.19 501.60 509.00 516.40 523.80 531.20 538.60 546.00 553.40 560.80 568.20 575.60 583.00 590.40 597.81 605.21 612.61 620.01 627.41 634.81 642.21 649.61 657.01 664.41 671.81 679.21 686.61 694.01 701.42 708.82 716.22 723.62 731.02 738.42 745.82 753.22 760.62 768.02 775.42 782.82 790.22 797.62 805.03 812.43 819.83 827.23 834.63 842.03 849.43 856.83 864.23 871.63 879.03 886.43 893.83 901.24 908.64 916.04 923.44 930.84 938.24 945.64 953.04" y="370.80" class="sq">ATGTCTATTTCCTCCTCTACCAACCTTAGGCGCTCTCCGATCTCAGCTACTCTGGAAAGGAGATTAGATGCAGTAGAACATACAAGAGCTAACAATGTGAGCTTTGAGCAGACAAAGGAA</text>
<text transform="scale(0.8,1)" x="61.38 67.67 73.96 80.25 86.54 92.83 99.12 105.41 111.70 117.99 124.28 130.57 136.86 143.15 149.44 155.73 162.02 168.32 174.61 180.90 187.19 193.48 199.77 206.06 212.35 218.64 224.93 231.22 237.51 243.80 250.09 256.38 262.67 268.97 275.26 281.55 287.84 294.13 300.42 306.71 313.00 319.29 325.58 331.87 338.16 344.45 350.74 357.03 363.32 369.62 375.91 382.20 388.49 394.78 401.07 407.36 413.65 419.94 426.23 432.52 438.81 445.10 451.39 457.68 463.97 470.27 476.56 482.85 489.14 495.43 501.72 508.01 514.30 520.59 526.88 533.17 539.46 545.75 552.04 558.33 564.62 570.92 577.21 583.50 589.79 596.08 602.37 608.66 614.95 621.24 627.53 633.82 640.11 646.40 652.69 658.98 665.27 671.57 677.86 684.15 690.44 696.73 703.02 709.31 715.60 721.89 728.18 734.47 740.76 747.05 753.34 759.63 765.92 772.22 778.51 784.80 791.09 797.38 803.67 809.96" y="379.80" class="cs">atgtctatttcctcctctaccaaccttaggcgctctccgatctcagctactctggaaaggagattagatgcagtagaacatacaagagctaacaatgtgagctttgagcagacaaaggaa</text>
<text x="3.9" y="361.90" class="lb" textLength="17" lengthAdjust="spacingAndGlyphs">nhm1</text>
<text x="4.3" y="370.80" class="lb" textLength="13.6" lengthAdjust="spacingAndGlyphs">‘FT’</text>
<text x="3.9" y="379.80" class="lb" textLength="33.9" lengthAdjust="spacingAndGlyphs">Consensus</text>
<text x="669.2" y="361.90" text-anchor="middle" class="nm">120</text>
<text x="669.2" y="370.80" text-anchor="middle" class="nm">120</text>
<rect x="48.4" y="390.27" width="603.90" height="18" fill="#0a0a54"/>
<text transform="scale(0.68,1)" x="72.35 79.75 87.15 94.56 101.96 109.36 116.76 124.16 131.56 138.96 146.36 153.76 161.16 168.56 175.96 183.36 190.76 198.17 205.57 212.97 220.37 227.77 235.17 242.57 249.97 257.37 264.77 272.17 279.57 286.97 294.38 301.78 309.18 316.58 323.98 331.38 338.78 346.18 353.58 360.98 368.38 375.78 383.18 390.58 397.99 405.39 412.79 420.19 427.59 434.99 442.39 449.79 457.19 464.59 471.99 479.39 486.79 494.19 501.60 509.00 516.40 523.80 531.20 538.60 546.00 553.40 560.80 568.20 575.60 583.00 590.40 597.81 605.21 612.61 620.01 627.41 634.81 642.21 649.61 657.01 664.41 671.81 679.21 686.61 694.01 701.42 708.82 716.22 723.62 731.02 738.42 745.82 753.22 760.62 768.02 775.42 782.82 790.22 797.62 805.03 812.43 819.83 827.23 834.63 842.03 849.43 856.83 864.23 871.63 879.03 886.43 893.83 901.24 908.64 916.04 923.44 930.84 938.24 945.64 953.04" y="397.57" class="sq">AAGATTAGGAAGATGTTGGAAAAAGTGGAGCTTTCTGTATCAGCTTATGATACCAGTTGGGTAGCAATGGTTCCATCACCAAGCTCCCAGAGTGCTCCACTTTTCCCACAATGTCTGAGC</text>
<text transform="scale(0.68,1)" x="72.35 79.75 87.15 94.56 101.96 109.36 116.76 124.16 131.56 138.96 146.36 153.76 161.16 168.56 175.96 183.36 190.76 198.17 205.57 212.97 220.37 227.77 235.17 242.57 249.97 257.37 264.77 272.17 279.57 286.97 294.38 301.78 309.18 316.58 323.98 331.38 338.78 346.18 353.58 360.98 368.38 375.78 383.18 390.58 397.99 405.39 412.79 420.19 427.59 434.99 442.39 449.79 457.19 464.59 471.99 479.39 486.79 494.19 501.60 509.00 516.40 523.80 531.20 538.60 546.00 553.40 560.80 568.20 575.60 583.00 590.40 597.81 605.21 612.61 620.01 627.41 634.81 642.21 649.61 657.01 664.41 671.81 679.21 686.61 694.01 701.42 708.82 716.22 723.62 731.02 738.42 745.82 753.22 760.62 768.02 775.42 782.82 790.22 797.62 805.03 812.43 819.83 827.23 834.63 842.03 849.43 856.83 864.23 871.63 879.03 886.43 893.83 901.24 908.64 916.04 923.44 930.84 938.24 945.64 953.04" y="406.47" class="sq">AAGATTAGGAAGATGTTGGAAAAAGTGGAGCTTTCTGTATCAGCTTATGATACCAGTTGGGTAGCAATGGTTCCATCACCAAGCTCCCAGAGTGCTCCACTTTTCCCACAATGTCTGAGC</text>
<text transform="scale(0.8,1)" x="61.38 67.67 73.96 80.25 86.54 92.83 99.12 105.41 111.70 117.99 124.28 130.57 136.86 143.15 149.44 155.73 162.02 168.32 174.61 180.90 187.19 193.48 199.77 206.06 212.35 218.64 224.93 231.22 237.51 243.80 250.09 256.38 262.67 268.97 275.26 281.55 287.84 294.13 300.42 306.71 313.00 319.29 325.58 331.87 338.16 344.45 350.74 357.03 363.32 369.62 375.91 382.20 388.49 394.78 401.07 407.36 413.65 419.94 426.23 432.52 438.81 445.10 451.39 457.68 463.97 470.27 476.56 482.85 489.14 495.43 501.72 508.01 514.30 520.59 526.88 533.17 539.46 545.75 552.04 558.33 564.62 570.92 577.21 583.50 589.79 596.08 602.37 608.66 614.95 621.24 627.53 633.82 640.11 646.40 652.69 658.98 665.27 671.57 677.86 684.15 690.44 696.73 703.02 709.31 715.60 721.89 728.18 734.47 740.76 747.05 753.34 759.63 765.92 772.22 778.51 784.80 791.09 797.38 803.67 809.96" y="415.47" class="cs">aagattaggaagatgttggaaaaagtggagctttctgtatcagcttatgataccagttgggtagcaatggttccatcaccaagctcccagagtgctccacttttcccacaatgtctgagc</text>
<text x="3.9" y="397.57" class="lb" textLength="17" lengthAdjust="spacingAndGlyphs">nhm1</text>
<text x="4.3" y="406.47" class="lb" textLength="13.6" lengthAdjust="spacingAndGlyphs">‘FT’</text>
<text x="3.9" y="415.47" class="lb" textLength="33.9" lengthAdjust="spacingAndGlyphs">Consensus</text>
<text x="669.2" y="397.57" text-anchor="middle" class="nm">240</text>
<text x="669.2" y="406.47" text-anchor="middle" class="nm">240</text>
<rect x="48.4" y="425.94" width="603.90" height="18" fill="#0a0a54"/>
<text transform="scale(0.68,1)" x="72.35 79.75 87.15 94.56 101.96 109.36 116.76 124.16 131.56 138.96 146.36 153.76 161.16 168.56 175.96 183.36 190.76 198.17 205.57 212.97 220.37 227.77 235.17 242.57 249.97 257.37 264.77 272.17 279.57 286.97 294.38 301.78 309.18 316.58 323.98 331.38 338.78 346.18 353.58 360.98 368.38 375.78 383.18 390.58 397.99 405.39 412.79 420.19 427.59 434.99 442.39 449.79 457.19 464.59 471.99 479.39 486.79 494.19 501.60 509.00 516.40 523.80 531.20 538.60 546.00 553.40 560.80 568.20 575.60 583.00 590.40 597.81 605.21 612.61 620.01 627.41 634.81 642.21 649.61 657.01 664.41 671.81 679.21 686.61 694.01 701.42 708.82 716.22 723.62 731.02 738.42 745.82 753.22 760.62 768.02 775.42 782.82 790.22 797.62 805.03 812.43 819.83 827.23 834.63 842.03 849.43 856.83 864.23 871.63 879.03 886.43 893.83 901.24 908.64 916.04 923.44 930.84 938.24 945.64 953.04" y="433.24" class="sq">TGGTTACTGGAGAATCAACATGAGGATGGATCTTGGGGACTTGATCATCCATCTCTTAAGAAGGATATGTTATCTTCTACGTTGGCGTGTATCCTCGCGTTGAAGAAATGGGGAACTGGT</text>
<text transform="scale(0.68,1)" x="72.35 79.75 87.15 94.56 101.96 109.36 116.76 124.16 131.56 138.96 146.36 153.76 161.16 168.56 175.96 183.36 190.76 198.17 205.57 212.97 220.37 227.77 235.17 242.57 249.97 257.37 264.77 272.17 279.57 286.97 294.38 301.78 309.18 316.58 323.98 331.38 338.78 346.18 353.58 360.98 368.38 375.78 383.18 390.58 397.99 405.39 412.79 420.19 427.59 434.99 442.39 449.79 457.19 464.59 471.99 479.39 486.79 494.19 501.60 509.00 516.40 523.80 531.20 538.60 546.00 553.40 560.80 568.20 575.60 583.00 590.40 597.81 605.21 612.61 620.01 627.41 634.81 642.21 649.61 657.01 664.41 671.81 679.21 686.61 694.01 701.42 708.82 716.22 723.62 731.02 738.42 745.82 753.22 760.62 768.02 775.42 782.82 790.22 797.62 805.03 812.43 819.83 827.23 834.63 842.03 849.43 856.83 864.23 871.63 879.03 886.43 893.83 901.24 908.64 916.04 923.44 930.84 938.24 945.64 953.04" y="442.14" class="sq">TGGTTACTGGAGAATCAACATGAGGATGGATCTTGGGGACTTGATCATCCATCTCTTAAGAAGGATATGTTATCTTCTACGTTGGCGTGTATCCTCGCGTTGAAGAAATGGGGAACTGGT</text>
<text transform="scale(0.8,1)" x="61.38 67.67 73.96 80.25 86.54 92.83 99.12 105.41 111.70 117.99 124.28 130.57 136.86 143.15 149.44 155.73 162.02 168.32 174.61 180.90 187.19 193.48 199.77 206.06 212.35 218.64 224.93 231.22 237.51 243.80 250.09 256.38 262.67 268.97 275.26 281.55 287.84 294.13 300.42 306.71 313.00 319.29 325.58 331.87 338.16 344.45 350.74 357.03 363.32 369.62 375.91 382.20 388.49 394.78 401.07 407.36 413.65 419.94 426.23 432.52 438.81 445.10 451.39 457.68 463.97 470.27 476.56 482.85 489.14 495.43 501.72 508.01 514.30 520.59 526.88 533.17 539.46 545.75 552.04 558.33 564.62 570.92 577.21 583.50 589.79 596.08 602.37 608.66 614.95 621.24 627.53 633.82 640.11 646.40 652.69 658.98 665.27 671.57 677.86 684.15 690.44 696.73 703.02 709.31 715.60 721.89 728.18 734.47 740.76 747.05 753.34 759.63 765.92 772.22 778.51 784.80 791.09 797.38 803.67 809.96" y="451.14" class="cs">tggttactggagaatcaacatgaggatggatcttggggacttgatcatccatctcttaagaaggatatgttatcttctacgttggcgtgtatcctcgcgttgaagaaatggggaactggt</text>
<text x="3.9" y="433.24" class="lb" textLength="17" lengthAdjust="spacingAndGlyphs">nhm1</text>
<text x="4.3" y="442.14" class="lb" textLength="13.6" lengthAdjust="spacingAndGlyphs">‘FT’</text>
<text x="3.9" y="451.14" class="lb" textLength="33.9" lengthAdjust="spacingAndGlyphs">Consensus</text>
<text x="669.2" y="433.24" text-anchor="middle" class="nm">360</text>
<text x="669.2" y="442.14" text-anchor="middle" class="nm">360</text>
<rect x="48.4" y="461.61" width="603.90" height="18" fill="#0a0a54"/>
<text transform="scale(0.68,1)" x="72.35 79.75 87.15 94.56 101.96 109.36 116.76 124.16 131.56 138.96 146.36 153.76 161.16 168.56 175.96 183.36 190.76 198.17 205.57 212.97 220.37 227.77 235.17 242.57 249.97 257.37 264.77 272.17 279.57 286.97 294.38 301.78 309.18 316.58 323.98 331.38 338.78 346.18 353.58 360.98 368.38 375.78 383.18 390.58 397.99 405.39 412.79 420.19 427.59 434.99 442.39 449.79 457.19 464.59 471.99 479.39 486.79 494.19 501.60 509.00 516.40 523.80 531.20 538.60 546.00 553.40 560.80 568.20 575.60 583.00 590.40 597.81 605.21 612.61 620.01 627.41 634.81 642.21 649.61 657.01 664.41 671.81 679.21 686.61 694.01 701.42 708.82 716.22 723.62 731.02 738.42 745.82 753.22 760.62 768.02 775.42 782.82 790.22 797.62 805.03 812.43 819.83 827.23 834.63 842.03 849.43 856.83 864.23 871.63 879.03 886.43 893.83 901.24 908.64 916.04 923.44 930.84 938.24 945.64 953.04" y="468.91" class="sq">GAAAGGCAAATAAGCAAGGGCCTACAGTTTATTGAGCTCCATTCTGCTTCAGTCACTGATGAAACCATAGAGAAACCAGCAGGGTTTGAGATTATATTTCCTGGGATGATTGAGTATGCT</text>
<text transform="scale(0.68,1)" x="72.35 79.75 87.15 94.56 101.96 109.36 116.76 124.16 131.56 138.96 146.36 153.76 161.16 168.56 175.96 183.36 190.76 198.17 205.57 212.97 220.37 227.77 235.17 242.57 249.97 257.37 264.77 272.17 279.57 286.97 294.38 301.78 309.18 316.58 323.98 331.38 338.78 346.18 353.58 360.98 368.38 375.78 383.18 390.58 397.99 405.39 412.79 420.19 427.59 434.99 442.39 449.79 457.19 464.59 471.99 479.39 486.79 494.19 501.60 509.00 516.40 523.80 531.20 538.60 546.00 553.40 560.80 568.20 575.60 583.00 590.40 597.81 605.21 612.61 620.01 627.41 634.81 642.21 649.61 657.01 664.41 671.81 679.21 686.61 694.01 701.42 708.82 716.22 723.62 731.02 738.42 745.82 753.22 760.62 768.02 775.42 782.82 790.22 797.62 805.03 812.43 819.83 827.23 834.63 842.03 849.43 856.83 864.23 871.63 879.03 886.43 893.83 901.24 908.64 916.04 923.44 930.84 938.24 945.64 953.04" y="477.81" class="sq">GAAAGGCAAATAAGCAAGGGCCTACAGTTTATTGAGCTCCATTCTGCTTCAGTCACTGATGAAACCATAGAGAAACCAGCAGGGTTTGAGATTATATTTCCTGGGATGATTGAGTATGCT</text>
<text transform="scale(0.8,1)" x="61.38 67.67 73.96 80.25 86.54 92.83 99.12 105.41 111.70 117.99 124.28 130.57 136.86 143.15 149.44 155.73 162.02 168.32 174.61 180.90 187.19 193.48 199.77 206.06 212.35 218.64 224.93 231.22 237.51 243.80 250.09 256.38 262.67 268.97 275.26 281.55 287.84 294.13 300.42 306.71 313.00 319.29 325.58 331.87 338.16 344.45 350.74 357.03 363.32 369.62 375.91 382.20 388.49 394.78 401.07 407.36 413.65 419.94 426.23 432.52 438.81 445.10 451.39 457.68 463.97 470.27 476.56 482.85 489.14 495.43 501.72 508.01 514.30 520.59 526.88 533.17 539.46 545.75 552.04 558.33 564.62 570.92 577.21 583.50 589.79 596.08 602.37 608.66 614.95 621.24 627.53 633.82 640.11 646.40 652.69 658.98 665.27 671.57 677.86 684.15 690.44 696.73 703.02 709.31 715.60 721.89 728.18 734.47 740.76 747.05 753.34 759.63 765.92 772.22 778.51 784.80 791.09 797.38 803.67 809.96" y="486.81" class="cs">gaaaggcaaataagcaagggcctacagtttattgagctccattctgcttcagtcactgatgaaaccatagagaaaccagcagggtttgagattatatttcctgggatgattgagtatgct</text>
<text x="3.9" y="468.91" class="lb" textLength="17" lengthAdjust="spacingAndGlyphs">nhm1</text>
<text x="4.3" y="477.81" class="lb" textLength="13.6" lengthAdjust="spacingAndGlyphs">‘FT’</text>
<text x="3.9" y="486.81" class="lb" textLength="33.9" lengthAdjust="spacingAndGlyphs">Consensus</text>
<text x="669.2" y="468.91" text-anchor="middle" class="nm">480</text>
<text x="669.2" y="477.81" text-anchor="middle" class="nm">480</text>
<rect x="48.4" y="497.28" width="603.90" height="18" fill="#0a0a54"/>
<text transform="scale(0.68,1)" x="72.35 79.75 87.15 94.56 101.96 109.36 116.76 124.16 131.56 138.96 146.36 153.76 161.16 168.56 175.96 183.36 190.76 198.17 205.57 212.97 220.37 227.77 235.17 242.57 249.97 257.37 264.77 272.17 279.57 286.97 294.38 301.78 309.18 316.58 323.98 331.38 338.78 346.18 353.58 360.98 368.38 375.78 383.18 390.58 397.99 405.39 412.79 420.19 427.59 434.99 442.39 449.79 457.19 464.59 471.99 479.39 486.79 494.19 501.60 509.00 516.40 523.80 531.20 538.60 546.00 553.40 560.80 568.20 575.60 583.00 590.40 597.81 605.21 612.61 620.01 627.41 634.81 642.21 649.61 657.01 664.41 671.81 679.21 686.61 694.01 701.42 708.82 716.22 723.62 731.02 738.42 745.82 753.22 760.62 768.02 775.42 782.82 790.22 797.62 805.03 812.43 819.83 827.23 834.63 842.03 849.43 856.83 864.23 871.63 879.03 886.43 893.83 901.24 908.64 916.04 923.44 930.84 938.24 945.64 953.04" y="504.58" class="sq">AGAGACTTGAATCTGGTGGTTCCATTGGGCTCAGAAGTGGTGGATGCCATGATACAGAAAAAGAGATCTGGATCTTAGAAGTGAAAGCTTTTCAAAGGGAAGAAGCATATCTACCCTATA</text>
<text transform="scale(0.68,1)" x="72.35 79.75 87.15 94.56 101.96 109.36 116.76 124.16 131.56 138.96 146.36 153.76 161.16 168.56 175.96 183.36 190.76 198.17 205.57 212.97 220.37 227.77 235.17 242.57 249.97 257.37 264.77 272.17 279.57 286.97 294.38 301.78 309.18 316.58 323.98 331.38 338.78 346.18 353.58 360.98 368.38 375.78 383.18 390.58 397.99 405.39 412.79 420.19 427.59 434.99 442.39 449.79 457.19 464.59 471.99 479.39 486.79 494.19 501.60 509.00 516.40 523.80 531.20 538.60 546.00 553.40 560.80 568.20 575.60 583.00 590.40 597.81 605.21 612.61 620.01 627.41 634.81 642.21 649.61 657.01 664.41 671.81 679.21 686.61 694.01 701.42 708.82 716.22 723.62 731.02 738.42 745.82 753.22 760.62 768.02 775.42 782.82 790.22 797.62 805.03 812.43 819.83 827.23 834.63 842.03 849.43 856.83 864.23 871.63 879.03 886.43 893.83 901.24 908.64 916.04 923.44 930.84 938.24 945.64 953.04" y="513.48" class="sq">AGAGACTTGAATCTGGTGGTTCCATTGGGCTCAGAAGTGGTGGATGCCATGATACAGAAAAAGAGATCTGGATCTTAGAAGTGAAAGCTTTTCAAAGGGAAGAAGCATATCTACCCTATA</text>
<text transform="scale(0.8,1)" x="61.38 67.67 73.96 80.25 86.54 92.83 99.12 105.41 111.70 117.99 124.28 130.57 136.86 143.15 149.44 155.73 162.02 168.32 174.61 180.90 187.19 193.48 199.77 206.06 212.35 218.64 224.93 231.22 237.51 243.80 250.09 256.38 262.67 268.97 275.26 281.55 287.84 294.13 300.42 306.71 313.00 319.29 325.58 331.87 338.16 344.45 350.74 357.03 363.32 369.62 375.91 382.20 388.49 394.78 401.07 407.36 413.65 419.94 426.23 432.52 438.81 445.10 451.39 457.68 463.97 470.27 476.56 482.85 489.14 495.43 501.72 508.01 514.30 520.59 526.88 533.17 539.46 545.75 552.04 558.33 564.62 570.92 577.21 583.50 589.79 596.08 602.37 608.66 614.95 621.24 627.53 633.82 640.11 646.40 652.69 658.98 665.27 671.57 677.86 684.15 690.44 696.73 703.02 709.31 715.60 721.89 728.18 734.47 740.76 747.05 753.34 759.63 765.92 772.22 778.51 784.80 791.09 797.38 803.67 809.96" y="522.48" class="cs">agagacttgaatctggtggttccattgggctcagaagtggtggatgccatgatacagaaaaagagatctggatcttagaagtgaaagcttttcaaagggaagaagcatatctaccctata</text>
<text x="3.9" y="504.58" class="lb" textLength="17" lengthAdjust="spacingAndGlyphs">nhm1</text>
<text x="4.3" y="513.48" class="lb" textLength="13.6" lengthAdjust="spacingAndGlyphs">‘FT’</text>
<text x="3.9" y="522.48" class="lb" textLength="33.9" lengthAdjust="spacingAndGlyphs">Consensus</text>
<text x="669.2" y="504.58" text-anchor="middle" class="nm">600</text>
<text x="669.2" y="513.48" text-anchor="middle" class="nm">600</text>
<rect x="48.4" y="532.95" width="603.90" height="18" fill="#0a0a54"/>
<rect x="385.58" y="532.95" width="5.03" height="9" fill="#fff"/>
<rect x="385.58" y="541.95" width="5.03" height="9" fill="#8ff5ee"/>
<text x="388.09" y="540.25" text-anchor="middle" font-family="Liberation Serif" font-size="8.6" fill="#555">T</text>
<text x="388.09" y="549.15" text-anchor="middle" font-family="Liberation Serif" font-size="8.6" fill="#20b0a8">C</text>
<text transform="scale(0.68,1)" x="72.35 79.75 87.15 94.56 101.96 109.36 116.76 124.16 131.56 138.96 146.36 153.76 161.16 168.56 175.96 183.36 190.76 198.17 205.57 212.97 220.37 227.77 235.17 242.57 249.97 257.37 264.77 272.17 279.57 286.97 294.38 301.78 309.18 316.58 323.98 331.38 338.78 346.18 353.58 360.98 368.38 375.78 383.18 390.58 397.99 405.39 412.79 420.19 427.59 434.99 442.39 449.79 457.19 464.59 471.99 479.39 486.79 494.19 501.60 509.00 516.40 523.80 531.20 538.60 546.00 553.40 560.80 568.20 575.60 583.00 590.40 597.81 605.21 612.61 620.01 627.41 634.81 642.21 649.61 657.01 664.41 671.81 679.21 686.61 694.01 701.42 708.82 716.22 723.62 731.02 738.42 745.82 753.22 760.62 768.02 775.42 782.82 790.22 797.62 805.03 812.43 819.83 827.23 834.63 842.03 849.43 856.83 864.23 871.63 879.03 886.43 893.83 901.24 908.64 916.04 923.44 930.84 938.24 945.64 953.04" y="540.25" class="sq">GTTTTGGAGGGAACAAGGAAGATTCAAGATTGGGATTTGGTAGGGAGATACCAAAGGAAAAATGGAT ACTGTTTGATTCTCCAGCCCACAACAGCAGCTGCATTTACTCAGTTCAGAAA</text>
<text transform="scale(0.68,1)" x="72.35 79.75 87.15 94.56 101.96 109.36 116.76 124.16 131.56 138.96 146.36 153.76 161.16 168.56 175.96 183.36 190.76 198.17 205.57 212.97 220.37 227.77 235.17 242.57 249.97 257.37 264.77 272.17 279.57 286.97 294.38 301.78 309.18 316.58 323.98 331.38 338.78 346.18 353.58 360.98 368.38 375.78 383.18 390.58 397.99 405.39 412.79 420.19 427.59 434.99 442.39 449.79 457.19 464.59 471.99 479.39 486.79 494.19 501.60 509.00 516.40 523.80 531.20 538.60 546.00 553.40 560.80 568.20 575.60 583.00 590.40 597.81 605.21 612.61 620.01 627.41 634.81 642.21 649.61 657.01 664.41 671.81 679.21 686.61 694.01 701.42 708.82 716.22 723.62 731.02 738.42 745.82 753.22 760.62 768.02 775.42 782.82 790.22 797.62 805.03 812.43 819.83 827.23 834.63 842.03 849.43 856.83 864.23 871.63 879.03 886.43 893.83 901.24 908.64 916.04 923.44 930.84 938.24 945.64 953.04" y="549.15" class="sq">GTTTTGGAGGGAACAAGGAAGATTCAAGATTGGGATTTGGTAGGGAGATACCAAAGGAAAAATGGAT ACTGTTTGATTCTCCAGCCCACAACAGCAGCTGCATTTACTCAGTTCAGAAA</text>
<text transform="scale(0.8,1)" x="61.38 67.67 73.96 80.25 86.54 92.83 99.12 105.41 111.70 117.99 124.28 130.57 136.86 143.15 149.44 155.73 162.02 168.32 174.61 180.90 187.19 193.48 199.77 206.06 212.35 218.64 224.93 231.22 237.51 243.80 250.09 256.38 262.67 268.97 275.26 281.55 287.84 294.13 300.42 306.71 313.00 319.29 325.58 331.87 338.16 344.45 350.74 357.03 363.32 369.62 375.91 382.20 388.49 394.78 401.07 407.36 413.65 419.94 426.23 432.52 438.81 445.10 451.39 457.68 463.97 470.27 476.56 482.85 489.14 495.43 501.72 508.01 514.30 520.59 526.88 533.17 539.46 545.75 552.04 558.33 564.62 570.92 577.21 583.50 589.79 596.08 602.37 608.66 614.95 621.24 627.53 633.82 640.11 646.40 652.69 658.98 665.27 671.57 677.86 684.15 690.44 696.73 703.02 709.31 715.60 721.89 728.18 734.47 740.76 747.05 753.34 759.63 765.92 772.22 778.51 784.80 791.09 797.38 803.67 809.96" y="558.15" class="cs">gttttggagggaacaaggaagattcaagattgggatttggtagggagataccaaaggaaaaatggat actgtttgattctccagcccacaacagcagctgcatttactcagttcagaaa</text>
<text x="3.9" y="540.25" class="lb" textLength="17" lengthAdjust="spacingAndGlyphs">nhm1</text>
<text x="4.3" y="549.15" class="lb" textLength="13.6" lengthAdjust="spacingAndGlyphs">‘FT’</text>
<text x="3.9" y="558.15" class="lb" textLength="33.9" lengthAdjust="spacingAndGlyphs">Consensus</text>
<text x="669.2" y="540.25" text-anchor="middle" class="nm">720</text>
<text x="669.2" y="549.15" text-anchor="middle" class="nm">720</text>
<rect x="48.4" y="568.62" width="603.90" height="18" fill="#0a0a54"/>
<text transform="scale(0.68,1)" x="72.35 79.75 87.15 94.56 101.96 109.36 116.76 124.16 131.56 138.96 146.36 153.76 161.16 168.56 175.96 183.36 190.76 198.17 205.57 212.97 220.37 227.77 235.17 242.57 249.97 257.37 264.77 272.17 279.57 286.97 294.38 301.78 309.18 316.58 323.98 331.38 338.78 346.18 353.58 360.98 368.38 375.78 383.18 390.58 397.99 405.39 412.79 420.19 427.59 434.99 442.39 449.79 457.19 464.59 471.99 479.39 486.79 494.19 501.60 509.00 516.40 523.80 531.20 538.60 546.00 553.40 560.80 568.20 575.60 583.00 590.40 597.81 605.21 612.61 620.01 627.41 634.81 642.21 649.61 657.01 664.41 671.81 679.21 686.61 694.01 701.42 708.82 716.22 723.62 731.02 738.42 745.82 753.22 760.62 768.02 775.42 782.82 790.22 797.62 805.03 812.43 819.83 827.23 834.63 842.03 849.43 856.83 864.23 871.63 879.03 886.43 893.83 901.24 908.64 916.04 923.44 930.84 938.24 945.64 953.04" y="575.92" class="sq">GATGGGTGTCTCCGTTATCTCTCTTCCCTCTTCCAGAAATTTGAATCTGCAGTTCCCACATTTTATCCCTTTGACCAATACGCACGCCTTAGTGTAATTGACACACTTGAAAGCCTGGGG</text>
<text transform="scale(0.68,1)" x="72.35 79.75 87.15 94.56 101.96 109.36 116.76 124.16 131.56 138.96 146.36 153.76 161.16 168.56 175.96 183.36 190.76 198.17 205.57 212.97 220.37 227.77 235.17 242.57 249.97 257.37 264.77 272.17 279.57 286.97 294.38 301.78 309.18 316.58 323.98 331.38 338.78 346.18 353.58 360.98 368.38 375.78 383.18 390.58 397.99 405.39 412.79 420.19 427.59 434.99 442.39 449.79 457.19 464.59 471.99 479.39 486.79 494.19 501.60 509.00 516.40 523.80 531.20 538.60 546.00 553.40 560.80 568.20 575.60 583.00 590.40 597.81 605.21 612.61 620.01 627.41 634.81 642.21 649.61 657.01 664.41 671.81 679.21 686.61 694.01 701.42 708.82 716.22 723.62 731.02 738.42 745.82 753.22 760.62 768.02 775.42 782.82 790.22 797.62 805.03 812.43 819.83 827.23 834.63 842.03 849.43 856.83 864.23 871.63 879.03 886.43 893.83 901.24 908.64 916.04 923.44 930.84 938.24 945.64 953.04" y="584.82" class="sq">GATGGGTGTCTCCGTTATCTCTCTTCCCTCTTCCAGAAATTTGAATCTGCAGTTCCCACATTTTATCCCTTTGACCAATACGCACGCCTTAGTGTAATTGACACACTTGAAAGCCTGGGG</text>
<text transform="scale(0.8,1)" x="61.38 67.67 73.96 80.25 86.54 92.83 99.12 105.41 111.70 117.99 124.28 130.57 136.86 143.15 149.44 155.73 162.02 168.32 174.61 180.90 187.19 193.48 199.77 206.06 212.35 218.64 224.93 231.22 237.51 243.80 250.09 256.38 262.67 268.97 275.26 281.55 287.84 294.13 300.42 306.71 313.00 319.29 325.58 331.87 338.16 344.45 350.74 357.03 363.32 369.62 375.91 382.20 388.49 394.78 401.07 407.36 413.65 419.94 426.23 432.52 438.81 445.10 451.39 457.68 463.97 470.27 476.56 482.85 489.14 495.43 501.72 508.01 514.30 520.59 526.88 533.17 539.46 545.75 552.04 558.33 564.62 570.92 577.21 583.50 589.79 596.08 602.37 608.66 614.95 621.24 627.53 633.82 640.11 646.40 652.69 658.98 665.27 671.57 677.86 684.15 690.44 696.73 703.02 709.31 715.60 721.89 728.18 734.47 740.76 747.05 753.34 759.63 765.92 772.22 778.51 784.80 791.09 797.38 803.67 809.96" y="593.82" class="cs">gatgggtgtctccgttatctctcttccctcttccagaaatttgaatctgcagttcccacattttatccctttgaccaatacgcacgccttagtgtaattgacacacttgaaagcctgggg</text>
<text x="3.9" y="575.92" class="lb" textLength="17" lengthAdjust="spacingAndGlyphs">nhm1</text>
<text x="4.3" y="584.82" class="lb" textLength="13.6" lengthAdjust="spacingAndGlyphs">‘FT’</text>
<text x="3.9" y="593.82" class="lb" textLength="33.9" lengthAdjust="spacingAndGlyphs">Consensus</text>
<text x="669.2" y="575.92" text-anchor="middle" class="nm">840</text>
<text x="669.2" y="584.82" text-anchor="middle" class="nm">840</text>
<rect x="48.4" y="604.29" width="603.90" height="18" fill="#0a0a54"/>
<text transform="scale(0.68,1)" x="72.35 79.75 87.15 94.56 101.96 109.36 116.76 124.16 131.56 138.96 146.36 153.76 161.16 168.56 175.96 183.36 190.76 198.17 205.57 212.97 220.37 227.77 235.17 242.57 249.97 257.37 264.77 272.17 279.57 286.97 294.38 301.78 309.18 316.58 323.98 331.38 338.78 346.18 353.58 360.98 368.38 375.78 383.18 390.58 397.99 405.39 412.79 420.19 427.59 434.99 442.39 449.79 457.19 464.59 471.99 479.39 486.79 494.19 501.60 509.00 516.40 523.80 531.20 538.60 546.00 553.40 560.80 568.20 575.60 583.00 590.40 597.81 605.21 612.61 620.01 627.41 634.81 642.21 649.61 657.01 664.41 671.81 679.21 686.61 694.01 701.42 708.82 716.22 723.62 731.02 738.42 745.82 753.22 760.62 768.02 775.42 782.82 790.22 797.62 805.03 812.43 819.83 827.23 834.63 842.03 849.43 856.83 864.23 871.63 879.03 886.43 893.83 901.24 908.64 916.04 923.44 930.84 938.24 945.64 953.04" y="611.59" class="sq">ATCGATAGGGACTTCAAGAACGAGATCAGAAGGGCATTGGATGAAACTTATAGATGCTGGCTGCGTGGGGATGAAGAGATACGTTTGGACTTGGCCACTTGTGCTTTGGCATTCCGGTTG</text>
<text transform="scale(0.68,1)" x="72.35 79.75 87.15 94.56 101.96 109.36 116.76 124.16 131.56 138.96 146.36 153.76 161.16 168.56 175.96 183.36 190.76 198.17 205.57 212.97 220.37 227.77 235.17 242.57 249.97 257.37 264.77 272.17 279.57 286.97 294.38 301.78 309.18 316.58 323.98 331.38 338.78 346.18 353.58 360.98 368.38 375.78 383.18 390.58 397.99 405.39 412.79 420.19 427.59 434.99 442.39 449.79 457.19 464.59 471.99 479.39 486.79 494.19 501.60 509.00 516.40 523.80 531.20 538.60 546.00 553.40 560.80 568.20 575.60 583.00 590.40 597.81 605.21 612.61 620.01 627.41 634.81 642.21 649.61 657.01 664.41 671.81 679.21 686.61 694.01 701.42 708.82 716.22 723.62 731.02 738.42 745.82 753.22 760.62 768.02 775.42 782.82 790.22 797.62 805.03 812.43 819.83 827.23 834.63 842.03 849.43 856.83 864.23 871.63 879.03 886.43 893.83 901.24 908.64 916.04 923.44 930.84 938.24 945.64 953.04" y="620.49" class="sq">ATCGATAGGGACTTCAAGAACGAGATCAGAAGGGCATTGGATGAAACTTATAGATGCTGGCTGCGTGGGGATGAAGAGATACGTTTGGACTTGGCCACTTGTGCTTTGGCATTCCGGTTG</text>
<text transform="scale(0.8,1)" x="61.38 67.67 73.96 80.25 86.54 92.83 99.12 105.41 111.70 117.99 124.28 130.57 136.86 143.15 149.44 155.73 162.02 168.32 174.61 180.90 187.19 193.48 199.77 206.06 212.35 218.64 224.93 231.22 237.51 243.80 250.09 256.38 262.67 268.97 275.26 281.55 287.84 294.13 300.42 306.71 313.00 319.29 325.58 331.87 338.16 344.45 350.74 357.03 363.32 369.62 375.91 382.20 388.49 394.78 401.07 407.36 413.65 419.94 426.23 432.52 438.81 445.10 451.39 457.68 463.97 470.27 476.56 482.85 489.14 495.43 501.72 508.01 514.30 520.59 526.88 533.17 539.46 545.75 552.04 558.33 564.62 570.92 577.21 583.50 589.79 596.08 602.37 608.66 614.95 621.24 627.53 633.82 640.11 646.40 652.69 658.98 665.27 671.57 677.86 684.15 690.44 696.73 703.02 709.31 715.60 721.89 728.18 734.47 740.76 747.05 753.34 759.63 765.92 772.22 778.51 784.80 791.09 797.38 803.67 809.96" y="629.49" class="cs">atcgatagggacttcaagaacgagatcagaagggcattggatgaaacttatagatgctggctgcgtggggatgaagagatacgtttggacttggccacttgtgctttggcattccggttg</text>
<text x="3.9" y="611.59" class="lb" textLength="17" lengthAdjust="spacingAndGlyphs">nhm1</text>
<text x="4.3" y="620.49" class="lb" textLength="13.6" lengthAdjust="spacingAndGlyphs">‘FT’</text>
<text x="3.9" y="629.49" class="lb" textLength="33.9" lengthAdjust="spacingAndGlyphs">Consensus</text>
<text x="669.2" y="611.59" text-anchor="middle" class="nm">960</text>
<text x="669.2" y="620.49" text-anchor="middle" class="nm">960</text>
<rect x="48.4" y="639.96" width="603.90" height="18" fill="#0a0a54"/>
<text transform="scale(0.68,1)" x="72.35 79.75 87.15 94.56 101.96 109.36 116.76 124.16 131.56 138.96 146.36 153.76 161.16 168.56 175.96 183.36 190.76 198.17 205.57 212.97 220.37 227.77 235.17 242.57 249.97 257.37 264.77 272.17 279.57 286.97 294.38 301.78 309.18 316.58 323.98 331.38 338.78 346.18 353.58 360.98 368.38 375.78 383.18 390.58 397.99 405.39 412.79 420.19 427.59 434.99 442.39 449.79 457.19 464.59 471.99 479.39 486.79 494.19 501.60 509.00 516.40 523.80 531.20 538.60 546.00 553.40 560.80 568.20 575.60 583.00 590.40 597.81 605.21 612.61 620.01 627.41 634.81 642.21 649.61 657.01 664.41 671.81 679.21 686.61 694.01 701.42 708.82 716.22 723.62 731.02 738.42 745.82 753.22 760.62 768.02 775.42 782.82 790.22 797.62 805.03 812.43 819.83 827.23 834.63 842.03 849.43 856.83 864.23 871.63 879.03 886.43 893.83 901.24 908.64 916.04 923.44 930.84 938.24 945.64 953.04" y="647.26" class="sq">TTACTTGCTCACGGCTATGATGTGTCTTATGATCCACTAAAACCATTTGCAGAAGAATCTGTTTCTCCAATACTCTGGAAGGATACCTTTAAGAATATAGTTTCTGTTGTGGAACTGTTT</text>
<text transform="scale(0.68,1)" x="72.35 79.75 87.15 94.56 101.96 109.36 116.76 124.16 131.56 138.96 146.36 153.76 161.16 168.56 175.96 183.36 190.76 198.17 205.57 212.97 220.37 227.77 235.17 242.57 249.97 257.37 264.77 272.17 279.57 286.97 294.38 301.78 309.18 316.58 323.98 331.38 338.78 346.18 353.58 360.98 368.38 375.78 383.18 390.58 397.99 405.39 412.79 420.19 427.59 434.99 442.39 449.79 457.19 464.59 471.99 479.39 486.79 494.19 501.60 509.00 516.40 523.80 531.20 538.60 546.00 553.40 560.80 568.20 575.60 583.00 590.40 597.81 605.21 612.61 620.01 627.41 634.81 642.21 649.61 657.01 664.41 671.81 679.21 686.61 694.01 701.42 708.82 716.22 723.62 731.02 738.42 745.82 753.22 760.62 768.02 775.42 782.82 790.22 797.62 805.03 812.43 819.83 827.23 834.63 842.03 849.43 856.83 864.23 871.63 879.03 886.43 893.83 901.24 908.64 916.04 923.44 930.84 938.24 945.64 953.04" y="656.16" class="sq">TTACTTGCTCACGGCTATGATGTGTCTTATGATCCACTAAAACCATTTGCAGAAGAATCTGTTTCTCCAATACTCTGGAAGGATACCTTTAAGAATATAGTTTCTGTTGTGGAACTGTTT</text>
<text transform="scale(0.8,1)" x="61.38 67.67 73.96 80.25 86.54 92.83 99.12 105.41 111.70 117.99 124.28 130.57 136.86 143.15 149.44 155.73 162.02 168.32 174.61 180.90 187.19 193.48 199.77 206.06 212.35 218.64 224.93 231.22 237.51 243.80 250.09 256.38 262.67 268.97 275.26 281.55 287.84 294.13 300.42 306.71 313.00 319.29 325.58 331.87 338.16 344.45 350.74 357.03 363.32 369.62 375.91 382.20 388.49 394.78 401.07 407.36 413.65 419.94 426.23 432.52 438.81 445.10 451.39 457.68 463.97 470.27 476.56 482.85 489.14 495.43 501.72 508.01 514.30 520.59 526.88 533.17 539.46 545.75 552.04 558.33 564.62 570.92 577.21 583.50 589.79 596.08 602.37 608.66 614.95 621.24 627.53 633.82 640.11 646.40 652.69 658.98 665.27 671.57 677.86 684.15 690.44 696.73 703.02 709.31 715.60 721.89 728.18 734.47 740.76 747.05 753.34 759.63 765.92 772.22 778.51 784.80 791.09 797.38 803.67 809.96" y="665.16" class="cs">ttacttgctcacggctatgatgtgtcttatgatccactaaaaccatttgcagaagaatctgtttctccaatactctggaaggatacctttaagaatatagtttctgttgtggaactgttt</text>
<text x="3.9" y="647.26" class="lb" textLength="17" lengthAdjust="spacingAndGlyphs">nhm1</text>
<text x="4.3" y="656.16" class="lb" textLength="13.6" lengthAdjust="spacingAndGlyphs">‘FT’</text>
<text x="3.9" y="665.16" class="lb" textLength="33.9" lengthAdjust="spacingAndGlyphs">Consensus</text>
<text x="669.2" y="647.26" text-anchor="middle" class="nm">1080</text>
<text x="669.2" y="656.16" text-anchor="middle" class="nm">1080</text>
<rect x="48.4" y="675.63" width="603.90" height="18" fill="#0a0a54"/>
<text transform="scale(0.68,1)" x="72.35 79.75 87.15 94.56 101.96 109.36 116.76 124.16 131.56 138.96 146.36 153.76 161.16 168.56 175.96 183.36 190.76 198.17 205.57 212.97 220.37 227.77 235.17 242.57 249.97 257.37 264.77 272.17 279.57 286.97 294.38 301.78 309.18 316.58 323.98 331.38 338.78 346.18 353.58 360.98 368.38 375.78 383.18 390.58 397.99 405.39 412.79 420.19 427.59 434.99 442.39 449.79 457.19 464.59 471.99 479.39 486.79 494.19 501.60 509.00 516.40 523.80 531.20 538.60 546.00 553.40 560.80 568.20 575.60 583.00 590.40 597.81 605.21 612.61 620.01 627.41 634.81 642.21 649.61 657.01 664.41 671.81 679.21 686.61 694.01 701.42 708.82 716.22 723.62 731.02 738.42 745.82 753.22 760.62 768.02 775.42 782.82 790.22 797.62 805.03 812.43 819.83 827.23 834.63 842.03 849.43 856.83 864.23 871.63 879.03 886.43 893.83 901.24 908.64 916.04 923.44 930.84 938.24 945.64 953.04" y="682.93" class="sq">AAGGCTGCTCAAAGCTATCCACATGAGTCAGCCTTGAAAGAGCAGTGTTTGTGGACTAAGCAGTATCTAGAGATGGAATTATCCAACTGGCCGATCACCTCTGCTAGAGATCAATACCTC</text>
<text transform="scale(0.68,1)" x="72.35 79.75 87.15 94.56 101.96 109.36 116.76 124.16 131.56 138.96 146.36 153.76 161.16 168.56 175.96 183.36 190.76 198.17 205.57 212.97 220.37 227.77 235.17 242.57 249.97 257.37 264.77 272.17 279.57 286.97 294.38 301.78 309.18 316.58 323.98 331.38 338.78 346.18 353.58 360.98 368.38 375.78 383.18 390.58 397.99 405.39 412.79 420.19 427.59 434.99 442.39 449.79 457.19 464.59 471.99 479.39 486.79 494.19 501.60 509.00 516.40 523.80 531.20 538.60 546.00 553.40 560.80 568.20 575.60 583.00 590.40 597.81 605.21 612.61 620.01 627.41 634.81 642.21 649.61 657.01 664.41 671.81 679.21 686.61 694.01 701.42 708.82 716.22 723.62 731.02 738.42 745.82 753.22 760.62 768.02 775.42 782.82 790.22 797.62 805.03 812.43 819.83 827.23 834.63 842.03 849.43 856.83 864.23 871.63 879.03 886.43 893.83 901.24 908.64 916.04 923.44 930.84 938.24 945.64 953.04" y="691.83" class="sq">AAGGCTGCTCAAAGCTATCCACATGAGTCAGCCTTGAAAGAGCAGTGTTTGTGGACTAAGCAGTATCTAGAGATGGAATTATCCAACTGGCCGATCACCTCTGCTAGAGATCAATACCTC</text>
<text transform="scale(0.8,1)" x="61.38 67.67 73.96 80.25 86.54 92.83 99.12 105.41 111.70 117.99 124.28 130.57 136.86 143.15 149.44 155.73 162.02 168.32 174.61 180.90 187.19 193.48 199.77 206.06 212.35 218.64 224.93 231.22 237.51 243.80 250.09 256.38 262.67 268.97 275.26 281.55 287.84 294.13 300.42 306.71 313.00 319.29 325.58 331.87 338.16 344.45 350.74 357.03 363.32 369.62 375.91 382.20 388.49 394.78 401.07 407.36 413.65 419.94 426.23 432.52 438.81 445.10 451.39 457.68 463.97 470.27 476.56 482.85 489.14 495.43 501.72 508.01 514.30 520.59 526.88 533.17 539.46 545.75 552.04 558.33 564.62 570.92 577.21 583.50 589.79 596.08 602.37 608.66 614.95 621.24 627.53 633.82 640.11 646.40 652.69 658.98 665.27 671.57 677.86 684.15 690.44 696.73 703.02 709.31 715.60 721.89 728.18 734.47 740.76 747.05 753.34 759.63 765.92 772.22 778.51 784.80 791.09 797.38 803.67 809.96" y="700.83" class="cs">aaggctgctcaaagctatccacatgagtcagccttgaaagagcagtgtttgtggactaagcagtatctagagatggaattatccaactggccgatcacctctgctagagatcaatacctc</text>
<text x="3.9" y="682.93" class="lb" textLength="17" lengthAdjust="spacingAndGlyphs">nhm1</text>
<text x="4.3" y="691.83" class="lb" textLength="13.6" lengthAdjust="spacingAndGlyphs">‘FT’</text>
<text x="3.9" y="700.83" class="lb" textLength="33.9" lengthAdjust="spacingAndGlyphs">Consensus</text>
<text x="669.2" y="682.93" text-anchor="middle" class="nm">1200</text>
<text x="669.2" y="691.83" text-anchor="middle" class="nm">1200</text>
<rect x="48.4" y="711.30" width="603.90" height="18" fill="#0a0a54"/>
<text transform="scale(0.68,1)" x="72.35 79.75 87.15 94.56 101.96 109.36 116.76 124.16 131.56 138.96 146.36 153.76 161.16 168.56 175.96 183.36 190.76 198.17 205.57 212.97 220.37 227.77 235.17 242.57 249.97 257.37 264.77 272.17 279.57 286.97 294.38 301.78 309.18 316.58 323.98 331.38 338.78 346.18 353.58 360.98 368.38 375.78 383.18 390.58 397.99 405.39 412.79 420.19 427.59 434.99 442.39 449.79 457.19 464.59 471.99 479.39 486.79 494.19 501.60 509.00 516.40 523.80 531.20 538.60 546.00 553.40 560.80 568.20 575.60 583.00 590.40 597.81 605.21 612.61 620.01 627.41 634.81 642.21 649.61 657.01 664.41 671.81 679.21 686.61 694.01 701.42 708.82 716.22 723.62 731.02 738.42 745.82 753.22 760.62 768.02 775.42 782.82 790.22 797.62 805.03 812.43 819.83 827.23 834.63 842.03 849.43 856.83 864.23 871.63 879.03 886.43 893.83 901.24 908.64 916.04 923.44 930.84 938.24 945.64 953.04" y="718.60" class="sq">AAGAGAGAGGTTGAGGATGCTCTTGCTTTTCCCCACTACGCAAGCCTGAAAAGATTAGATCATAGGAGAAAACTACTCAGAGGTTTCTGTTTAGAAAACACAAGAGTTATGAAGACATCC</text>
<text transform="scale(0.68,1)" x="72.35 79.75 87.15 94.56 101.96 109.36 116.76 124.16 131.56 138.96 146.36 153.76 161.16 168.56 175.96 183.36 190.76 198.17 205.57 212.97 220.37 227.77 235.17 242.57 249.97 257.37 264.77 272.17 279.57 286.97 294.38 301.78 309.18 316.58 323.98 331.38 338.78 346.18 353.58 360.98 368.38 375.78 383.18 390.58 397.99 405.39 412.79 420.19 427.59 434.99 442.39 449.79 457.19 464.59 471.99 479.39 486.79 494.19 501.60 509.00 516.40 523.80 531.20 538.60 546.00 553.40 560.80 568.20 575.60 583.00 590.40 597.81 605.21 612.61 620.01 627.41 634.81 642.21 649.61 657.01 664.41 671.81 679.21 686.61 694.01 701.42 708.82 716.22 723.62 731.02 738.42 745.82 753.22 760.62 768.02 775.42 782.82 790.22 797.62 805.03 812.43 819.83 827.23 834.63 842.03 849.43 856.83 864.23 871.63 879.03 886.43 893.83 901.24 908.64 916.04 923.44 930.84 938.24 945.64 953.04" y="727.50" class="sq">AAGAGAGAGGTTGAGGATGCTCTTGCTTTTCCCCACTACGCAAGCCTGAAAAGATTAGATCATAGGAGAAAACTACTCAGAGGTTTCTGTTTAGAAAACACAAGAGTTATGAAGACATCC</text>
<text transform="scale(0.8,1)" x="61.38 67.67 73.96 80.25 86.54 92.83 99.12 105.41 111.70 117.99 124.28 130.57 136.86 143.15 149.44 155.73 162.02 168.32 174.61 180.90 187.19 193.48 199.77 206.06 212.35 218.64 224.93 231.22 237.51 243.80 250.09 256.38 262.67 268.97 275.26 281.55 287.84 294.13 300.42 306.71 313.00 319.29 325.58 331.87 338.16 344.45 350.74 357.03 363.32 369.62 375.91 382.20 388.49 394.78 401.07 407.36 413.65 419.94 426.23 432.52 438.81 445.10 451.39 457.68 463.97 470.27 476.56 482.85 489.14 495.43 501.72 508.01 514.30 520.59 526.88 533.17 539.46 545.75 552.04 558.33 564.62 570.92 577.21 583.50 589.79 596.08 602.37 608.66 614.95 621.24 627.53 633.82 640.11 646.40 652.69 658.98 665.27 671.57 677.86 684.15 690.44 696.73 703.02 709.31 715.60 721.89 728.18 734.47 740.76 747.05 753.34 759.63 765.92 772.22 778.51 784.80 791.09 797.38 803.67 809.96" y="736.50" class="cs">aagagagaggttgaggatgctcttgcttttccccactacgcaagcctgaaaagattagatcataggagaaaactactcagaggtttctgtttagaaaacacaagagttatgaagacatcc</text>
<text x="3.9" y="718.60" class="lb" textLength="17" lengthAdjust="spacingAndGlyphs">nhm1</text>
<text x="4.3" y="727.50" class="lb" textLength="13.6" lengthAdjust="spacingAndGlyphs">‘FT’</text>
<text x="3.9" y="736.50" class="lb" textLength="33.9" lengthAdjust="spacingAndGlyphs">Consensus</text>
<text x="669.2" y="718.60" text-anchor="middle" class="nm">1320</text>
<text x="669.2" y="727.50" text-anchor="middle" class="nm">1320</text>
<rect x="48.4" y="746.97" width="603.90" height="18" fill="#0a0a54"/>
<text transform="scale(0.68,1)" x="72.35 79.75 87.15 94.56 101.96 109.36 116.76 124.16 131.56 138.96 146.36 153.76 161.16 168.56 175.96 183.36 190.76 198.17 205.57 212.97 220.37 227.77 235.17 242.57 249.97 257.37 264.77 272.17 279.57 286.97 294.38 301.78 309.18 316.58 323.98 331.38 338.78 346.18 353.58 360.98 368.38 375.78 383.18 390.58 397.99 405.39 412.79 420.19 427.59 434.99 442.39 449.79 457.19 464.59 471.99 479.39 486.79 494.19 501.60 509.00 516.40 523.80 531.20 538.60 546.00 553.40 560.80 568.20 575.60 583.00 590.40 597.81 605.21 612.61 620.01 627.41 634.81 642.21 649.61 657.01 664.41 671.81 679.21 686.61 694.01 701.42 708.82 716.22 723.62 731.02 738.42 745.82 753.22 760.62 768.02 775.42 782.82 790.22 797.62 805.03 812.43 819.83 827.23 834.63 842.03 849.43 856.83 864.23 871.63 879.03 886.43 893.83 901.24 908.64 916.04 923.44 930.84 938.24 945.64 953.04" y="754.27" class="sq">TATTGCTTTTCCCAATGTTTGCAGCTCTGATATCTTGAAGTTAGCTGTGGAGGACTTTAATTCTGCCAGTCCATACACGGTGAAGAAATGAAACGTCTTGACAGATGGATAGTGGAGAAT</text>
<text transform="scale(0.68,1)" x="72.35 79.75 87.15 94.56 101.96 109.36 116.76 124.16 131.56 138.96 146.36 153.76 161.16 168.56 175.96 183.36 190.76 198.17 205.57 212.97 220.37 227.77 235.17 242.57 249.97 257.37 264.77 272.17 279.57 286.97 294.38 301.78 309.18 316.58 323.98 331.38 338.78 346.18 353.58 360.98 368.38 375.78 383.18 390.58 397.99 405.39 412.79 420.19 427.59 434.99 442.39 449.79 457.19 464.59 471.99 479.39 486.79 494.19 501.60 509.00 516.40 523.80 531.20 538.60 546.00 553.40 560.80 568.20 575.60 583.00 590.40 597.81 605.21 612.61 620.01 627.41 634.81 642.21 649.61 657.01 664.41 671.81 679.21 686.61 694.01 701.42 708.82 716.22 723.62 731.02 738.42 745.82 753.22 760.62 768.02 775.42 782.82 790.22 797.62 805.03 812.43 819.83 827.23 834.63 842.03 849.43 856.83 864.23 871.63 879.03 886.43 893.83 901.24 908.64 916.04 923.44 930.84 938.24 945.64 953.04" y="763.17" class="sq">TATTGCTTTTCCCAATGTTTGCAGCTCTGATATCTTGAAGTTAGCTGTGGAGGACTTTAATTCTGCCAGTCCATACACGGTGAAGAAATGAAACGTCTTGACAGATGGATAGTGGAGAAT</text>
<text transform="scale(0.8,1)" x="61.38 67.67 73.96 80.25 86.54 92.83 99.12 105.41 111.70 117.99 124.28 130.57 136.86 143.15 149.44 155.73 162.02 168.32 174.61 180.90 187.19 193.48 199.77 206.06 212.35 218.64 224.93 231.22 237.51 243.80 250.09 256.38 262.67 268.97 275.26 281.55 287.84 294.13 300.42 306.71 313.00 319.29 325.58 331.87 338.16 344.45 350.74 357.03 363.32 369.62 375.91 382.20 388.49 394.78 401.07 407.36 413.65 419.94 426.23 432.52 438.81 445.10 451.39 457.68 463.97 470.27 476.56 482.85 489.14 495.43 501.72 508.01 514.30 520.59 526.88 533.17 539.46 545.75 552.04 558.33 564.62 570.92 577.21 583.50 589.79 596.08 602.37 608.66 614.95 621.24 627.53 633.82 640.11 646.40 652.69 658.98 665.27 671.57 677.86 684.15 690.44 696.73 703.02 709.31 715.60 721.89 728.18 734.47 740.76 747.05 753.34 759.63 765.92 772.22 778.51 784.80 791.09 797.38 803.67 809.96" y="772.17" class="cs">tattgcttttcccaatgtttgcagctctgatatcttgaagttagctgtggaggactttaattctgccagtccatacacggtgaagaaatgaaacgtcttgacagatggatagtggagaat</text>
<text x="3.9" y="754.27" class="lb" textLength="17" lengthAdjust="spacingAndGlyphs">nhm1</text>
<text x="4.3" y="763.17" class="lb" textLength="13.6" lengthAdjust="spacingAndGlyphs">‘FT’</text>
<text x="3.9" y="772.17" class="lb" textLength="33.9" lengthAdjust="spacingAndGlyphs">Consensus</text>
<text x="669.2" y="754.27" text-anchor="middle" class="nm">1440</text>
<text x="669.2" y="763.17" text-anchor="middle" class="nm">1440</text>
<rect x="48.4" y="782.64" width="603.90" height="18" fill="#0a0a54"/>
<text transform="scale(0.68,1)" x="72.35 79.75 87.15 94.56 101.96 109.36 116.76 124.16 131.56 138.96 146.36 153.76 161.16 168.56 175.96 183.36 190.76 198.17 205.57 212.97 220.37 227.77 235.17 242.57 249.97 257.37 264.77 272.17 279.57 286.97 294.38 301.78 309.18 316.58 323.98 331.38 338.78 346.18 353.58 360.98 368.38 375.78 383.18 390.58 397.99 405.39 412.79 420.19 427.59 434.99 442.39 449.79 457.19 464.59 471.99 479.39 486.79 494.19 501.60 509.00 516.40 523.80 531.20 538.60 546.00 553.40 560.80 568.20 575.60 583.00 590.40 597.81 605.21 612.61 620.01 627.41 634.81 642.21 649.61 657.01 664.41 671.81 679.21 686.61 694.01 701.42 708.82 716.22 723.62 731.02 738.42 745.82 753.22 760.62 768.02 775.42 782.82 790.22 797.62 805.03 812.43 819.83 827.23 834.63 842.03 849.43 856.83 864.23 871.63 879.03 886.43 893.83 901.24 908.64 916.04 923.44 930.84 938.24 945.64 953.04" y="789.94" class="sq">AGATTGCAGGAACTGAAGTTTGCAAGACAGAAGCTGGCTTACTGTTACTTCTCTGGTGCTCAACCCTTTTTCTCTCCAGAGCTATCTGATGCTCGTATATCGTGGCCCAAAGGTGGAGTT</text>
<text transform="scale(0.68,1)" x="72.35 79.75 87.15 94.56 101.96 109.36 116.76 124.16 131.56 138.96 146.36 153.76 161.16 168.56 175.96 183.36 190.76 198.17 205.57 212.97 220.37 227.77 235.17 242.57 249.97 257.37 264.77 272.17 279.57 286.97 294.38 301.78 309.18 316.58 323.98 331.38 338.78 346.18 353.58 360.98 368.38 375.78 383.18 390.58 397.99 405.39 412.79 420.19 427.59 434.99 442.39 449.79 457.19 464.59 471.99 479.39 486.79 494.19 501.60 509.00 516.40 523.80 531.20 538.60 546.00 553.40 560.80 568.20 575.60 583.00 590.40 597.81 605.21 612.61 620.01 627.41 634.81 642.21 649.61 657.01 664.41 671.81 679.21 686.61 694.01 701.42 708.82 716.22 723.62 731.02 738.42 745.82 753.22 760.62 768.02 775.42 782.82 790.22 797.62 805.03 812.43 819.83 827.23 834.63 842.03 849.43 856.83 864.23 871.63 879.03 886.43 893.83 901.24 908.64 916.04 923.44 930.84 938.24 945.64 953.04" y="798.84" class="sq">AGATTGCAGGAACTGAAGTTTGCAAGACAGAAGCTGGCTTACTGTTACTTCTCTGGTGCTCAACCCTTTTTCTCTCCAGAGCTATCTGATGCTCGTATATCGTGGCCCAAAGGTGGAGTT</text>
<text transform="scale(0.8,1)" x="61.38 67.67 73.96 80.25 86.54 92.83 99.12 105.41 111.70 117.99 124.28 130.57 136.86 143.15 149.44 155.73 162.02 168.32 174.61 180.90 187.19 193.48 199.77 206.06 212.35 218.64 224.93 231.22 237.51 243.80 250.09 256.38 262.67 268.97 275.26 281.55 287.84 294.13 300.42 306.71 313.00 319.29 325.58 331.87 338.16 344.45 350.74 357.03 363.32 369.62 375.91 382.20 388.49 394.78 401.07 407.36 413.65 419.94 426.23 432.52 438.81 445.10 451.39 457.68 463.97 470.27 476.56 482.85 489.14 495.43 501.72 508.01 514.30 520.59 526.88 533.17 539.46 545.75 552.04 558.33 564.62 570.92 577.21 583.50 589.79 596.08 602.37 608.66 614.95 621.24 627.53 633.82 640.11 646.40 652.69 658.98 665.27 671.57 677.86 684.15 690.44 696.73 703.02 709.31 715.60 721.89 728.18 734.47 740.76 747.05 753.34 759.63 765.92 772.22 778.51 784.80 791.09 797.38 803.67 809.96" y="807.84" class="cs">agattgcaggaactgaagtttgcaagacagaagctggcttactgttacttctctggtgctcaaccctttttctctccagagctatctgatgctcgtatatcgtggcccaaaggtggagtt</text>
<text x="3.9" y="789.94" class="lb" textLength="17" lengthAdjust="spacingAndGlyphs">nhm1</text>
<text x="4.3" y="798.84" class="lb" textLength="13.6" lengthAdjust="spacingAndGlyphs">‘FT’</text>
<text x="3.9" y="807.84" class="lb" textLength="33.9" lengthAdjust="spacingAndGlyphs">Consensus</text>
<text x="669.2" y="789.94" text-anchor="middle" class="nm">1560</text>
<text x="669.2" y="798.84" text-anchor="middle" class="nm">1560</text>
<rect x="48.4" y="818.31" width="603.90" height="18" fill="#0a0a54"/>
<text transform="scale(0.68,1)" x="72.35 79.75 87.15 94.56 101.96 109.36 116.76 124.16 131.56 138.96 146.36 153.76 161.16 168.56 175.96 183.36 190.76 198.17 205.57 212.97 220.37 227.77 235.17 242.57 249.97 257.37 264.77 272.17 279.57 286.97 294.38 301.78 309.18 316.58 323.98 331.38 338.78 346.18 353.58 360.98 368.38 375.78 383.18 390.58 397.99 405.39 412.79 420.19 427.59 434.99 442.39 449.79 457.19 464.59 471.99 479.39 486.79 494.19 501.60 509.00 516.40 523.80 531.20 538.60 546.00 553.40 560.80 568.20 575.60 583.00 590.40 597.81 605.21 612.61 620.01 627.41 634.81 642.21 649.61 657.01 664.41 671.81 679.21 686.61 694.01 701.42 708.82 716.22 723.62 731.02 738.42 745.82 753.22 760.62 768.02 775.42 782.82 790.22 797.62 805.03 812.43 819.83 827.23 834.63 842.03 849.43 856.83 864.23 871.63 879.03 886.43 893.83 901.24 908.64 916.04 923.44 930.84 938.24 945.64 953.04" y="825.61" class="sq">CTGACAACGGTTATCGATGACTTCTTTGACGTTGGAGCTTCCAAAGAAGAAATGGAAAACTTCATACACTTGGTGGAACAGTGGGATTTGAACTGTGTTCCTGAGTATTGCTCTGAGAAA</text>
<text transform="scale(0.68,1)" x="72.35 79.75 87.15 94.56 101.96 109.36 116.76 124.16 131.56 138.96 146.36 153.76 161.16 168.56 175.96 183.36 190.76 198.17 205.57 212.97 220.37 227.77 235.17 242.57 249.97 257.37 264.77 272.17 279.57 286.97 294.38 301.78 309.18 316.58 323.98 331.38 338.78 346.18 353.58 360.98 368.38 375.78 383.18 390.58 397.99 405.39 412.79 420.19 427.59 434.99 442.39 449.79 457.19 464.59 471.99 479.39 486.79 494.19 501.60 509.00 516.40 523.80 531.20 538.60 546.00 553.40 560.80 568.20 575.60 583.00 590.40 597.81 605.21 612.61 620.01 627.41 634.81 642.21 649.61 657.01 664.41 671.81 679.21 686.61 694.01 701.42 708.82 716.22 723.62 731.02 738.42 745.82 753.22 760.62 768.02 775.42 782.82 790.22 797.62 805.03 812.43 819.83 827.23 834.63 842.03 849.43 856.83 864.23 871.63 879.03 886.43 893.83 901.24 908.64 916.04 923.44 930.84 938.24 945.64 953.04" y="834.51" class="sq">CTGACAACGGTTATCGATGACTTCTTTGACGTTGGAGCTTCCAAAGAAGAAATGGAAAACTTCATACACTTGGTGGAACAGTGGGATTTGAACTGTGTTCCTGAGTATTGCTCTGAGAAA</text>
<text transform="scale(0.8,1)" x="61.38 67.67 73.96 80.25 86.54 92.83 99.12 105.41 111.70 117.99 124.28 130.57 136.86 143.15 149.44 155.73 162.02 168.32 174.61 180.90 187.19 193.48 199.77 206.06 212.35 218.64 224.93 231.22 237.51 243.80 250.09 256.38 262.67 268.97 275.26 281.55 287.84 294.13 300.42 306.71 313.00 319.29 325.58 331.87 338.16 344.45 350.74 357.03 363.32 369.62 375.91 382.20 388.49 394.78 401.07 407.36 413.65 419.94 426.23 432.52 438.81 445.10 451.39 457.68 463.97 470.27 476.56 482.85 489.14 495.43 501.72 508.01 514.30 520.59 526.88 533.17 539.46 545.75 552.04 558.33 564.62 570.92 577.21 583.50 589.79 596.08 602.37 608.66 614.95 621.24 627.53 633.82 640.11 646.40 652.69 658.98 665.27 671.57 677.86 684.15 690.44 696.73 703.02 709.31 715.60 721.89 728.18 734.47 740.76 747.05 753.34 759.63 765.92 772.22 778.51 784.80 791.09 797.38 803.67 809.96" y="843.51" class="cs">ctgacaacggttatcgatgacttctttgacgttggagcttccaaagaagaaatggaaaacttcatacacttggtggaacagtgggatttgaactgtgttcctgagtattgctctgagaaa</text>
<text x="3.9" y="825.61" class="lb" textLength="17" lengthAdjust="spacingAndGlyphs">nhm1</text>
<text x="4.3" y="834.51" class="lb" textLength="13.6" lengthAdjust="spacingAndGlyphs">‘FT’</text>
<text x="3.9" y="843.51" class="lb" textLength="33.9" lengthAdjust="spacingAndGlyphs">Consensus</text>
<text x="669.2" y="825.61" text-anchor="middle" class="nm">1680</text>
<text x="669.2" y="834.51" text-anchor="middle" class="nm">1680</text>
<rect x="48.4" y="853.98" width="603.90" height="18" fill="#0a0a54"/>
<text transform="scale(0.68,1)" x="72.35 79.75 87.15 94.56 101.96 109.36 116.76 124.16 131.56 138.96 146.36 153.76 161.16 168.56 175.96 183.36 190.76 198.17 205.57 212.97 220.37 227.77 235.17 242.57 249.97 257.37 264.77 272.17 279.57 286.97 294.38 301.78 309.18 316.58 323.98 331.38 338.78 346.18 353.58 360.98 368.38 375.78 383.18 390.58 397.99 405.39 412.79 420.19 427.59 434.99 442.39 449.79 457.19 464.59 471.99 479.39 486.79 494.19 501.60 509.00 516.40 523.80 531.20 538.60 546.00 553.40 560.80 568.20 575.60 583.00 590.40 597.81 605.21 612.61 620.01 627.41 634.81 642.21 649.61 657.01 664.41 671.81 679.21 686.61 694.01 701.42 708.82 716.22 723.62 731.02 738.42 745.82 753.22 760.62 768.02 775.42 782.82 790.22 797.62 805.03 812.43 819.83 827.23 834.63 842.03 849.43 856.83 864.23 871.63 879.03 886.43 893.83 901.24 908.64 916.04 923.44 930.84 938.24 945.64 953.04" y="861.28" class="sq">GTCGAGATCATTTTTCTCGGTTCTAAGGGATACAATTCTTGAAACAGGAGAGAAAGCATTACCTATCAAGGACGCAGCGTGACACACCACATTGTGAAAATTTGGTTGGATTTGCTTAAA</text>
<text transform="scale(0.68,1)" x="72.35 79.75 87.15 94.56 101.96 109.36 116.76 124.16 131.56 138.96 146.36 153.76 161.16 168.56 175.96 183.36 190.76 198.17 205.57 212.97 220.37 227.77 235.17 242.57 249.97 257.37 264.77 272.17 279.57 286.97 294.38 301.78 309.18 316.58 323.98 331.38 338.78 346.18 353.58 360.98 368.38 375.78 383.18 390.58 397.99 405.39 412.79 420.19 427.59 434.99 442.39 449.79 457.19 464.59 471.99 479.39 486.79 494.19 501.60 509.00 516.40 523.80 531.20 538.60 546.00 553.40 560.80 568.20 575.60 583.00 590.40 597.81 605.21 612.61 620.01 627.41 634.81 642.21 649.61 657.01 664.41 671.81 679.21 686.61 694.01 701.42 708.82 716.22 723.62 731.02 738.42 745.82 753.22 760.62 768.02 775.42 782.82 790.22 797.62 805.03 812.43 819.83 827.23 834.63 842.03 849.43 856.83 864.23 871.63 879.03 886.43 893.83 901.24 908.64 916.04 923.44 930.84 938.24 945.64 953.04" y="870.18" class="sq">GTCGAGATCATTTTTCTCGGTTCTAAGGGATACAATTCTTGAAACAGGAGAGAAAGCATTACCTATCAAGGACGCAGCGTGACACACCACATTGTGAAAATTTGGTTGGATTTGCTTAAA</text>
<text transform="scale(0.8,1)" x="61.38 67.67 73.96 80.25 86.54 92.83 99.12 105.41 111.70 117.99 124.28 130.57 136.86 143.15 149.44 155.73 162.02 168.32 174.61 180.90 187.19 193.48 199.77 206.06 212.35 218.64 224.93 231.22 237.51 243.80 250.09 256.38 262.67 268.97 275.26 281.55 287.84 294.13 300.42 306.71 313.00 319.29 325.58 331.87 338.16 344.45 350.74 357.03 363.32 369.62 375.91 382.20 388.49 394.78 401.07 407.36 413.65 419.94 426.23 432.52 438.81 445.10 451.39 457.68 463.97 470.27 476.56 482.85 489.14 495.43 501.72 508.01 514.30 520.59 526.88 533.17 539.46 545.75 552.04 558.33 564.62 570.92 577.21 583.50 589.79 596.08 602.37 608.66 614.95 621.24 627.53 633.82 640.11 646.40 652.69 658.98 665.27 671.57 677.86 684.15 690.44 696.73 703.02 709.31 715.60 721.89 728.18 734.47 740.76 747.05 753.34 759.63 765.92 772.22 778.51 784.80 791.09 797.38 803.67 809.96" y="879.18" class="cs">gtcgagatcatttttctcggttctaagggatacaattcttgaaacaggagagaaagcattacctatcaaggacgcagcgtgacacaccacattgtgaaaatttggttggatttgcttaaa</text>
<text x="3.9" y="861.28" class="lb" textLength="17" lengthAdjust="spacingAndGlyphs">nhm1</text>
<text x="4.3" y="870.18" class="lb" textLength="13.6" lengthAdjust="spacingAndGlyphs">‘FT’</text>
<text x="3.9" y="879.18" class="lb" textLength="33.9" lengthAdjust="spacingAndGlyphs">Consensus</text>
<text x="669.2" y="861.28" text-anchor="middle" class="nm">1800</text>
<text x="669.2" y="870.18" text-anchor="middle" class="nm">1800</text>
<rect x="48.4" y="889.65" width="603.90" height="18" fill="#0a0a54"/>
<text transform="scale(0.68,1)" x="72.35 79.75 87.15 94.56 101.96 109.36 116.76 124.16 131.56 138.96 146.36 153.76 161.16 168.56 175.96 183.36 190.76 198.17 205.57 212.97 220.37 227.77 235.17 242.57 249.97 257.37 264.77 272.17 279.57 286.97 294.38 301.78 309.18 316.58 323.98 331.38 338.78 346.18 353.58 360.98 368.38 375.78 383.18 390.58 397.99 405.39 412.79 420.19 427.59 434.99 442.39 449.79 457.19 464.59 471.99 479.39 486.79 494.19 501.60 509.00 516.40 523.80 531.20 538.60 546.00 553.40 560.80 568.20 575.60 583.00 590.40 597.81 605.21 612.61 620.01 627.41 634.81 642.21 649.61 657.01 664.41 671.81 679.21 686.61 694.01 701.42 708.82 716.22 723.62 731.02 738.42 745.82 753.22 760.62 768.02 775.42 782.82 790.22 797.62 805.03 812.43 819.83 827.23 834.63 842.03 849.43 856.83 864.23 871.63 879.03 886.43 893.83 901.24 908.64 916.04 923.44 930.84 938.24 945.64 953.04" y="896.95" class="sq">TCTATGTTGAGAGAAGCAGAGTGGTCCAGTGAAAAGCCAACACCAAGCTTGGAGGATTACATGGAAAATGCGTATGTATCATTTGCATTAGGACCAATTGTCCTCCCAGCAACCTATCTG</text>
<text transform="scale(0.68,1)" x="72.35 79.75 87.15 94.56 101.96 109.36 116.76 124.16 131.56 138.96 146.36 153.76 161.16 168.56 175.96 183.36 190.76 198.17 205.57 212.97 220.37 227.77 235.17 242.57 249.97 257.37 264.77 272.17 279.57 286.97 294.38 301.78 309.18 316.58 323.98 331.38 338.78 346.18 353.58 360.98 368.38 375.78 383.18 390.58 397.99 405.39 412.79 420.19 427.59 434.99 442.39 449.79 457.19 464.59 471.99 479.39 486.79 494.19 501.60 509.00 516.40 523.80 531.20 538.60 546.00 553.40 560.80 568.20 575.60 583.00 590.40 597.81 605.21 612.61 620.01 627.41 634.81 642.21 649.61 657.01 664.41 671.81 679.21 686.61 694.01 701.42 708.82 716.22 723.62 731.02 738.42 745.82 753.22 760.62 768.02 775.42 782.82 790.22 797.62 805.03 812.43 819.83 827.23 834.63 842.03 849.43 856.83 864.23 871.63 879.03 886.43 893.83 901.24 908.64 916.04 923.44 930.84 938.24 945.64 953.04" y="905.85" class="sq">TCTATGTTGAGAGAAGCAGAGTGGTCCAGTGAAAAGCCAACACCAAGCTTGGAGGATTACATGGAAAATGCGTATGTATCATTTGCATTAGGACCAATTGTCCTCCCAGCAACCTATCTG</text>
<text transform="scale(0.8,1)" x="61.38 67.67 73.96 80.25 86.54 92.83 99.12 105.41 111.70 117.99 124.28 130.57 136.86 143.15 149.44 155.73 162.02 168.32 174.61 180.90 187.19 193.48 199.77 206.06 212.35 218.64 224.93 231.22 237.51 243.80 250.09 256.38 262.67 268.97 275.26 281.55 287.84 294.13 300.42 306.71 313.00 319.29 325.58 331.87 338.16 344.45 350.74 357.03 363.32 369.62 375.91 382.20 388.49 394.78 401.07 407.36 413.65 419.94 426.23 432.52 438.81 445.10 451.39 457.68 463.97 470.27 476.56 482.85 489.14 495.43 501.72 508.01 514.30 520.59 526.88 533.17 539.46 545.75 552.04 558.33 564.62 570.92 577.21 583.50 589.79 596.08 602.37 608.66 614.95 621.24 627.53 633.82 640.11 646.40 652.69 658.98 665.27 671.57 677.86 684.15 690.44 696.73 703.02 709.31 715.60 721.89 728.18 734.47 740.76 747.05 753.34 759.63 765.92 772.22 778.51 784.80 791.09 797.38 803.67 809.96" y="914.85" class="cs">tctatgttgagagaagcagagtggtccagtgaaaagccaacaccaagcttggaggattacatggaaaatgcgtatgtatcatttgcattaggaccaattgtcctcccagcaacctatctg</text>
<text x="3.9" y="896.95" class="lb" textLength="17" lengthAdjust="spacingAndGlyphs">nhm1</text>
<text x="4.3" y="905.85" class="lb" textLength="13.6" lengthAdjust="spacingAndGlyphs">‘FT’</text>
<text x="3.9" y="914.85" class="lb" textLength="33.9" lengthAdjust="spacingAndGlyphs">Consensus</text>
<text x="669.2" y="896.95" text-anchor="middle" class="nm">1920</text>
<text x="669.2" y="905.85" text-anchor="middle" class="nm">1920</text>
<rect x="48.4" y="925.32" width="603.90" height="18" fill="#0a0a54"/>
<text transform="scale(0.68,1)" x="72.35 79.75 87.15 94.56 101.96 109.36 116.76 124.16 131.56 138.96 146.36 153.76 161.16 168.56 175.96 183.36 190.76 198.17 205.57 212.97 220.37 227.77 235.17 242.57 249.97 257.37 264.77 272.17 279.57 286.97 294.38 301.78 309.18 316.58 323.98 331.38 338.78 346.18 353.58 360.98 368.38 375.78 383.18 390.58 397.99 405.39 412.79 420.19 427.59 434.99 442.39 449.79 457.19 464.59 471.99 479.39 486.79 494.19 501.60 509.00 516.40 523.80 531.20 538.60 546.00 553.40 560.80 568.20 575.60 583.00 590.40 597.81 605.21 612.61 620.01 627.41 634.81 642.21 649.61 657.01 664.41 671.81 679.21 686.61 694.01 701.42 708.82 716.22 723.62 731.02 738.42 745.82 753.22 760.62 768.02 775.42 782.82 790.22 797.62 805.03 812.43 819.83 827.23 834.63 842.03 849.43 856.83 864.23 871.63 879.03 886.43 893.83 901.24 908.64 916.04 923.44 930.84 938.24 945.64 953.04" y="932.62" class="sq">ATCGGACCACCAATGTCTGAAGAAACCGTCGGAAGCCCTGAGTATAATCAGCTCTACAAGCTCATGAGCACTATGGGTCGTCTTCTAAATGACATACAAGGCTTTAAGAGAGAAAGCGCT</text>
<text transform="scale(0.68,1)" x="72.35 79.75 87.15 94.56 101.96 109.36 116.76 124.16 131.56 138.96 146.36 153.76 161.16 168.56 175.96 183.36 190.76 198.17 205.57 212.97 220.37 227.77 235.17 242.57 249.97 257.37 264.77 272.17 279.57 286.97 294.38 301.78 309.18 316.58 323.98 331.38 338.78 346.18 353.58 360.98 368.38 375.78 383.18 390.58 397.99 405.39 412.79 420.19 427.59 434.99 442.39 449.79 457.19 464.59 471.99 479.39 486.79 494.19 501.60 509.00 516.40 523.80 531.20 538.60 546.00 553.40 560.80 568.20 575.60 583.00 590.40 597.81 605.21 612.61 620.01 627.41 634.81 642.21 649.61 657.01 664.41 671.81 679.21 686.61 694.01 701.42 708.82 716.22 723.62 731.02 738.42 745.82 753.22 760.62 768.02 775.42 782.82 790.22 797.62 805.03 812.43 819.83 827.23 834.63 842.03 849.43 856.83 864.23 871.63 879.03 886.43 893.83 901.24 908.64 916.04 923.44 930.84 938.24 945.64 953.04" y="941.52" class="sq">ATCGGACCACCAATGTCTGAAGAAACCGTCGGAAGCCCTGAGTATAATCAGCTCTACAAGCTCATGAGCACTATGGGTCGTCTTCTAAATGACATACAAGGCTTTAAGAGAGAAAGCGCT</text>
<text transform="scale(0.8,1)" x="61.38 67.67 73.96 80.25 86.54 92.83 99.12 105.41 111.70 117.99 124.28 130.57 136.86 143.15 149.44 155.73 162.02 168.32 174.61 180.90 187.19 193.48 199.77 206.06 212.35 218.64 224.93 231.22 237.51 243.80 250.09 256.38 262.67 268.97 275.26 281.55 287.84 294.13 300.42 306.71 313.00 319.29 325.58 331.87 338.16 344.45 350.74 357.03 363.32 369.62 375.91 382.20 388.49 394.78 401.07 407.36 413.65 419.94 426.23 432.52 438.81 445.10 451.39 457.68 463.97 470.27 476.56 482.85 489.14 495.43 501.72 508.01 514.30 520.59 526.88 533.17 539.46 545.75 552.04 558.33 564.62 570.92 577.21 583.50 589.79 596.08 602.37 608.66 614.95 621.24 627.53 633.82 640.11 646.40 652.69 658.98 665.27 671.57 677.86 684.15 690.44 696.73 703.02 709.31 715.60 721.89 728.18 734.47 740.76 747.05 753.34 759.63 765.92 772.22 778.51 784.80 791.09 797.38 803.67 809.96" y="950.52" class="cs">atcggaccaccaatgtctgaagaaaccgtcggaagccctgagtataatcagctctacaagctcatgagcactatgggtcgtcttctaaatgacatacaaggctttaagagagaaagcgct</text>
<text x="3.9" y="932.62" class="lb" textLength="17" lengthAdjust="spacingAndGlyphs">nhm1</text>
<text x="4.3" y="941.52" class="lb" textLength="13.6" lengthAdjust="spacingAndGlyphs">‘FT’</text>
<text x="3.9" y="950.52" class="lb" textLength="33.9" lengthAdjust="spacingAndGlyphs">Consensus</text>
<text x="669.2" y="932.62" text-anchor="middle" class="nm">2040</text>
<text x="669.2" y="941.52" text-anchor="middle" class="nm">2040</text>
<rect x="48.4" y="960.99" width="603.90" height="18" fill="#0a0a54"/>
<text transform="scale(0.68,1)" x="72.35 79.75 87.15 94.56 101.96 109.36 116.76 124.16 131.56 138.96 146.36 153.76 161.16 168.56 175.96 183.36 190.76 198.17 205.57 212.97 220.37 227.77 235.17 242.57 249.97 257.37 264.77 272.17 279.57 286.97 294.38 301.78 309.18 316.58 323.98 331.38 338.78 346.18 353.58 360.98 368.38 375.78 383.18 390.58 397.99 405.39 412.79 420.19 427.59 434.99 442.39 449.79 457.19 464.59 471.99 479.39 486.79 494.19 501.60 509.00 516.40 523.80 531.20 538.60 546.00 553.40 560.80 568.20 575.60 583.00 590.40 597.81 605.21 612.61 620.01 627.41 634.81 642.21 649.61 657.01 664.41 671.81 679.21 686.61 694.01 701.42 708.82 716.22 723.62 731.02 738.42 745.82 753.22 760.62 768.02 775.42 782.82 790.22 797.62 805.03 812.43 819.83 827.23 834.63 842.03 849.43 856.83 864.23 871.63 879.03 886.43 893.83 901.24 908.64 916.04 923.44 930.84 938.24 945.64 953.04" y="968.29" class="sq">CAAGGGAAGCTGAACTCTGTTTCATTGCACATGGTACATGACCAAGACAATGGCGGCGAAGAGGAGATCATAGAATGTATTAAGGGTTTAGCAGAGAGAAAGAGGGAAGAGCTGCAGAAG</text>
<text transform="scale(0.68,1)" x="72.35 79.75 87.15 94.56 101.96 109.36 116.76 124.16 131.56 138.96 146.36 153.76 161.16 168.56 175.96 183.36 190.76 198.17 205.57 212.97 220.37 227.77 235.17 242.57 249.97 257.37 264.77 272.17 279.57 286.97 294.38 301.78 309.18 316.58 323.98 331.38 338.78 346.18 353.58 360.98 368.38 375.78 383.18 390.58 397.99 405.39 412.79 420.19 427.59 434.99 442.39 449.79 457.19 464.59 471.99 479.39 486.79 494.19 501.60 509.00 516.40 523.80 531.20 538.60 546.00 553.40 560.80 568.20 575.60 583.00 590.40 597.81 605.21 612.61 620.01 627.41 634.81 642.21 649.61 657.01 664.41 671.81 679.21 686.61 694.01 701.42 708.82 716.22 723.62 731.02 738.42 745.82 753.22 760.62 768.02 775.42 782.82 790.22 797.62 805.03 812.43 819.83 827.23 834.63 842.03 849.43 856.83 864.23 871.63 879.03 886.43 893.83 901.24 908.64 916.04 923.44 930.84 938.24 945.64 953.04" y="977.19" class="sq">CAAGGGAAGCTGAACTCTGTTTCATTGCACATGGTACATGACCAAGACAATGGCGGCGAAGAGGAGATCATAGAATGTATTAAGGGTTTAGCAGAGAGAAAGAGGGAAGAGCTGCAGAAG</text>
<text transform="scale(0.8,1)" x="61.38 67.67 73.96 80.25 86.54 92.83 99.12 105.41 111.70 117.99 124.28 130.57 136.86 143.15 149.44 155.73 162.02 168.32 174.61 180.90 187.19 193.48 199.77 206.06 212.35 218.64 224.93 231.22 237.51 243.80 250.09 256.38 262.67 268.97 275.26 281.55 287.84 294.13 300.42 306.71 313.00 319.29 325.58 331.87 338.16 344.45 350.74 357.03 363.32 369.62 375.91 382.20 388.49 394.78 401.07 407.36 413.65 419.94 426.23 432.52 438.81 445.10 451.39 457.68 463.97 470.27 476.56 482.85 489.14 495.43 501.72 508.01 514.30 520.59 526.88 533.17 539.46 545.75 552.04 558.33 564.62 570.92 577.21 583.50 589.79 596.08 602.37 608.66 614.95 621.24 627.53 633.82 640.11 646.40 652.69 658.98 665.27 671.57 677.86 684.15 690.44 696.73 703.02 709.31 715.60 721.89 728.18 734.47 740.76 747.05 753.34 759.63 765.92 772.22 778.51 784.80 791.09 797.38 803.67 809.96" y="986.19" class="cs">caagggaagctgaactctgtttcattgcacatggtacatgaccaagacaatggcggcgaagaggagatcatagaatgtattaagggtttagcagagagaaagagggaagagctgcagaag</text>
<text x="3.9" y="968.29" class="lb" textLength="17" lengthAdjust="spacingAndGlyphs">nhm1</text>
<text x="4.3" y="977.19" class="lb" textLength="13.6" lengthAdjust="spacingAndGlyphs">‘FT’</text>
<text x="3.9" y="986.19" class="lb" textLength="33.9" lengthAdjust="spacingAndGlyphs">Consensus</text>
<text x="669.2" y="968.29" text-anchor="middle" class="nm">2160</text>
<text x="669.2" y="977.19" text-anchor="middle" class="nm">2160</text>
<rect x="48.4" y="996.66" width="603.90" height="18" fill="#0a0a54"/>
<text transform="scale(0.68,1)" x="72.35 79.75 87.15 94.56 101.96 109.36 116.76 124.16 131.56 138.96 146.36 153.76 161.16 168.56 175.96 183.36 190.76 198.17 205.57 212.97 220.37 227.77 235.17 242.57 249.97 257.37 264.77 272.17 279.57 286.97 294.38 301.78 309.18 316.58 323.98 331.38 338.78 346.18 353.58 360.98 368.38 375.78 383.18 390.58 397.99 405.39 412.79 420.19 427.59 434.99 442.39 449.79 457.19 464.59 471.99 479.39 486.79 494.19 501.60 509.00 516.40 523.80 531.20 538.60 546.00 553.40 560.80 568.20 575.60 583.00 590.40 597.81 605.21 612.61 620.01 627.41 634.81 642.21 649.61 657.01 664.41 671.81 679.21 686.61 694.01 701.42 708.82 716.22 723.62 731.02 738.42 745.82 753.22 760.62 768.02 775.42 782.82 790.22 797.62 805.03 812.43 819.83 827.23 834.63 842.03 849.43 856.83 864.23 871.63 879.03 886.43 893.83 901.24 908.64 916.04 923.44 930.84 938.24 945.64 953.04" y="1003.96" class="sq">CTAGTTTTGGAGGAAAAAGGGAGTGGTGGTTCCAAGGGAGTGCAAGGAAGCCCTTCTTGAATGAGCAAAGTGTTGAACTTGTTTTACAGGAAAGATGATGGATTCACTTCACAAGATCTG</text>
<text transform="scale(0.68,1)" x="72.35 79.75 87.15 94.56 101.96 109.36 116.76 124.16 131.56 138.96 146.36 153.76 161.16 168.56 175.96 183.36 190.76 198.17 205.57 212.97 220.37 227.77 235.17 242.57 249.97 257.37 264.77 272.17 279.57 286.97 294.38 301.78 309.18 316.58 323.98 331.38 338.78 346.18 353.58 360.98 368.38 375.78 383.18 390.58 397.99 405.39 412.79 420.19 427.59 434.99 442.39 449.79 457.19 464.59 471.99 479.39 486.79 494.19 501.60 509.00 516.40 523.80 531.20 538.60 546.00 553.40 560.80 568.20 575.60 583.00 590.40 597.81 605.21 612.61 620.01 627.41 634.81 642.21 649.61 657.01 664.41 671.81 679.21 686.61 694.01 701.42 708.82 716.22 723.62 731.02 738.42 745.82 753.22 760.62 768.02 775.42 782.82 790.22 797.62 805.03 812.43 819.83 827.23 834.63 842.03 849.43 856.83 864.23 871.63 879.03 886.43 893.83 901.24 908.64 916.04 923.44 930.84 938.24 945.64 953.04" y="1012.86" class="sq">CTAGTTTTGGAGGAAAAAGGGAGTGGTGGTTCCAAGGGAGTGCAAGGAAGCCCTTCTTGAATGAGCAAAGTGTTGAACTTGTTTTACAGGAAAGATGATGGATTCACTTCACAAGATCTG</text>
<text transform="scale(0.8,1)" x="61.38 67.67 73.96 80.25 86.54 92.83 99.12 105.41 111.70 117.99 124.28 130.57 136.86 143.15 149.44 155.73 162.02 168.32 174.61 180.90 187.19 193.48 199.77 206.06 212.35 218.64 224.93 231.22 237.51 243.80 250.09 256.38 262.67 268.97 275.26 281.55 287.84 294.13 300.42 306.71 313.00 319.29 325.58 331.87 338.16 344.45 350.74 357.03 363.32 369.62 375.91 382.20 388.49 394.78 401.07 407.36 413.65 419.94 426.23 432.52 438.81 445.10 451.39 457.68 463.97 470.27 476.56 482.85 489.14 495.43 501.72 508.01 514.30 520.59 526.88 533.17 539.46 545.75 552.04 558.33 564.62 570.92 577.21 583.50 589.79 596.08 602.37 608.66 614.95 621.24 627.53 633.82 640.11 646.40 652.69 658.98 665.27 671.57 677.86 684.15 690.44 696.73 703.02 709.31 715.60 721.89 728.18 734.47 740.76 747.05 753.34 759.63 765.92 772.22 778.51 784.80 791.09 797.38 803.67 809.96" y="1021.86" class="cs">ctagttttggaggaaaaagggagtggtggttccaagggagtgcaaggaagcccttcttgaatgagcaaagtgttgaacttgttttacaggaaagatgatggattcacttcacaagatctg</text>
<text x="3.9" y="1003.96" class="lb" textLength="17" lengthAdjust="spacingAndGlyphs">nhm1</text>
<text x="4.3" y="1012.86" class="lb" textLength="13.6" lengthAdjust="spacingAndGlyphs">‘FT’</text>
<text x="3.9" y="1021.86" class="lb" textLength="33.9" lengthAdjust="spacingAndGlyphs">Consensus</text>
<text x="669.2" y="1003.96" text-anchor="middle" class="nm">2280</text>
<text x="669.2" y="1012.86" text-anchor="middle" class="nm">2280</text>
<rect x="48.4" y="1032.33" width="312.01" height="18" fill="#0a0a54"/>
<text transform="scale(0.68,1)" x="72.35 79.75 87.15 94.56 101.96 109.36 116.76 124.16 131.56 138.96 146.36 153.76 161.16 168.56 175.96 183.36 190.76 198.17 205.57 212.97 220.37 227.77 235.17 242.57 249.97 257.37 264.77 272.17 279.57 286.97 294.38 301.78 309.18 316.58 323.98 331.38 338.78 346.18 353.58 360.98 368.38 375.78 383.18 390.58 397.99 405.39 412.79 420.19 427.59 434.99 442.39 449.79 457.19 464.59 471.99 479.39 486.79 494.19 501.60 509.00 516.40 523.80" y="1039.63" class="sq">ATGAGTGTTGTTAAATCTGTTATGTATGAACCTGTGACCTTGCAGGATGAGTCTCTAACTTG</text>
<text transform="scale(0.68,1)" x="72.35 79.75 87.15 94.56 101.96 109.36 116.76 124.16 131.56 138.96 146.36 153.76 161.16 168.56 175.96 183.36 190.76 198.17 205.57 212.97 220.37 227.77 235.17 242.57 249.97 257.37 264.77 272.17 279.57 286.97 294.38 301.78 309.18 316.58 323.98 331.38 338.78 346.18 353.58 360.98 368.38 375.78 383.18 390.58 397.99 405.39 412.79 420.19 427.59 434.99 442.39 449.79 457.19 464.59 471.99 479.39 486.79 494.19 501.60 509.00 516.40 523.80" y="1048.53" class="sq">ATGAGTGTTGTTAAATCTGTTATGTATGAACCTGTGACCTTGCAGGATGAGTCTCTAACTTG</text>
<text transform="scale(0.8,1)" x="61.38 67.67 73.96 80.25 86.54 92.83 99.12 105.41 111.70 117.99 124.28 130.57 136.86 143.15 149.44 155.73 162.02 168.32 174.61 180.90 187.19 193.48 199.77 206.06 212.35 218.64 224.93 231.22 237.51 243.80 250.09 256.38 262.67 268.97 275.26 281.55 287.84 294.13 300.42 306.71 313.00 319.29 325.58 331.87 338.16 344.45 350.74 357.03 363.32 369.62 375.91 382.20 388.49 394.78 401.07 407.36 413.65 419.94 426.23 432.52 438.81 445.10" y="1057.53" class="cs">atgagtgttgttaaatctgttatgtatgaacctgtgaccttgcaggatgagtctctaacttg</text>
<text x="3.9" y="1039.63" class="lb" textLength="17" lengthAdjust="spacingAndGlyphs">nhm1</text>
<text x="4.3" y="1048.53" class="lb" textLength="13.6" lengthAdjust="spacingAndGlyphs">‘FT’</text>
<text x="3.9" y="1057.53" class="lb" textLength="33.9" lengthAdjust="spacingAndGlyphs">Consensus</text>
<text x="669.2" y="1039.63" text-anchor="middle" class="nm">2342</text>
<text x="669.2" y="1048.53" text-anchor="middle" class="nm">2342</text>
<text x="2.9" y="1094.6" font-family="Liberation Serif" font-weight="bold" font-size="26" fill="#000">c</text>
<text x="28.5" y="1103.6" font-family="Liberation Serif" font-weight="bold" font-style="italic" font-size="22.4" fill="#000">BraA07g042410.3C</text>
<text x="253.6" y="1109.6" font-family="Liberation Serif" font-weight="bold" font-size="17.7" fill="#000">C</text>
<line x1="267.6" y1="1105.3" x2="284.6" y2="1105.3" stroke="#000" stroke-width="1.1"/>
<path d="M281.1,1102.7 L285.6,1105.3 L281.1,1107.8999999999999" fill="none" stroke="#000" stroke-width="1.1"/>
<text x="286.6" y="1109.6" font-family="Liberation Serif" font-weight="bold" font-size="17.7" fill="#e0141e" textLength="10.8" lengthAdjust="spacingAndGlyphs">T</text>
<text x="310.6" y="1109.6" font-family="Liberation Serif" font-weight="bold" font-size="17.7" fill="#000">H</text>
<line x1="325.4" y1="1105.3" x2="342.2" y2="1105.3" stroke="#000" stroke-width="1.1"/>
<path d="M338.7,1102.7 L343.2,1105.3 L338.7,1107.8999999999999" fill="none" stroke="#000" stroke-width="1.1"/>
<text x="344" y="1109.6" font-family="Liberation Serif" font-weight="bold" font-size="17.7" fill="#e0141e">Y</text>
<line x1="21" y1="1129.2" x2="673" y2="1129.2" stroke="#555" stroke-width="1.2"/>
<rect x="20.7" y="1125.2" width="8.2" height="8" rx="3.5" fill="#f7880f"/>
<rect x="84.6" y="1125.2" width="9.1" height="8" rx="3.5" fill="#f7880f"/>
<rect x="113.5" y="1125.2" width="80.6" height="8" rx="3.5" fill="#f7880f"/>
<rect x="232" y="1125.2" width="36.8" height="8" rx="3.5" fill="#f7880f"/>
<rect x="283.3" y="1125.2" width="20.5" height="8" rx="3.5" fill="#f7880f"/>
<rect x="316.9" y="1125.2" width="17.1" height="8" rx="3.5" fill="#f7880f"/>
<rect x="350.3" y="1125.2" width="37.8" height="8" rx="3.5" fill="#f7880f"/>
<rect x="399.9" y="1125.2" width="20.5" height="8" rx="3.5" fill="#f7880f"/>
<rect x="434.6" y="1125.2" width="17.4" height="8" rx="3.5" fill="#f7880f"/>
<rect x="470.3" y="1125.2" width="37.3" height="8" rx="3.5" fill="#f7880f"/>
<rect x="521.3" y="1125.2" width="24.4" height="8" rx="3.5" fill="#f7880f"/>
<rect x="561.5" y="1125.2" width="42.8" height="8" rx="3.5" fill="#f7880f"/>
<rect x="618.5" y="1125.2" width="54.7" height="8" rx="3.5" fill="#f7880f"/>
<path d="M253,1119 L264.4,1119 L258.7,1129.6 Z" fill="#3a6ea8" stroke="#2c5a8e" stroke-width="0.6"/>
<text x="10.6" y="1142.3" font-family="Liberation Sans" font-size="9" fill="#333">5’</text>
<text x="676.8" y="1142" font-family="Liberation Sans" font-size="9" fill="#333">3’</text>
<line x1="21" y1="1145.5" x2="673.2" y2="1145.5" stroke="#555" stroke-width="1.1"/>
<line x1="21.0" y1="1141.5" x2="21.0" y2="1145.5" stroke="#555" stroke-width="1"/>
<text x="17.0" y="1153.8" font-family="Liberation Sans" font-size="9.1" fill="#444">0bp</text>
<line x1="107.9" y1="1141.5" x2="107.9" y2="1145.5" stroke="#555" stroke-width="1"/>
<text x="103.9" y="1153.8" font-family="Liberation Sans" font-size="9.1" fill="#444">500bp</text>
<line x1="194.8" y1="1141.5" x2="194.8" y2="1145.5" stroke="#555" stroke-width="1"/>
<text x="190.8" y="1153.8" font-family="Liberation Sans" font-size="9.1" fill="#444">1000bp</text>
<line x1="281.6" y1="1141.5" x2="281.6" y2="1145.5" stroke="#555" stroke-width="1"/>
<text x="277.6" y="1153.8" font-family="Liberation Sans" font-size="9.1" fill="#444">1500bp</text>
<line x1="368.5" y1="1141.5" x2="368.5" y2="1145.5" stroke="#555" stroke-width="1"/>
<text x="364.5" y="1153.8" font-family="Liberation Sans" font-size="9.1" fill="#444">2000bp</text>
<line x1="455.4" y1="1141.5" x2="455.4" y2="1145.5" stroke="#555" stroke-width="1"/>
<text x="451.4" y="1153.8" font-family="Liberation Sans" font-size="9.1" fill="#444">2500bp</text>
<line x1="542.2" y1="1141.5" x2="542.2" y2="1145.5" stroke="#555" stroke-width="1"/>
<text x="538.2" y="1153.8" font-family="Liberation Sans" font-size="9.1" fill="#444">3000bp</text>
<line x1="629.1" y1="1141.5" x2="629.1" y2="1145.5" stroke="#555" stroke-width="1"/>
<text x="625.1" y="1153.8" font-family="Liberation Sans" font-size="9.1" fill="#444">3500bp</text>
</svg>
</body></html>
